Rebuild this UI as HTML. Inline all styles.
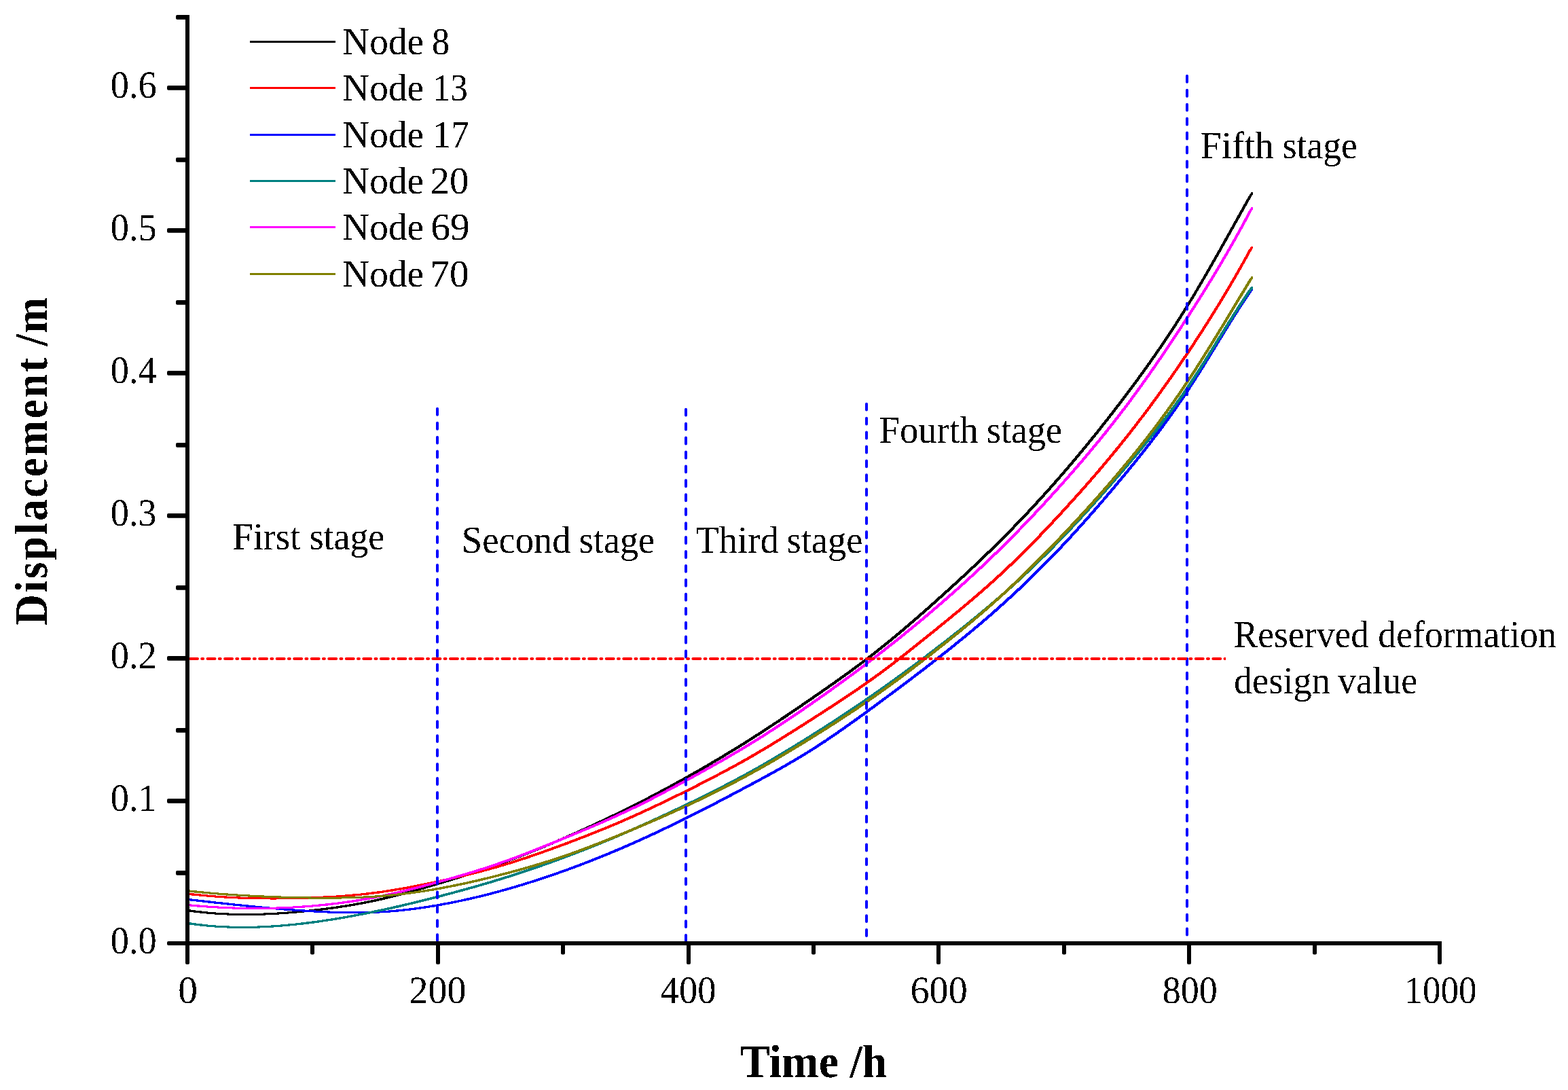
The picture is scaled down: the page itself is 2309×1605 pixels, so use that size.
<!DOCTYPE html>
<html lang="en"><head><meta charset="utf-8"><title>Displacement vs Time</title>
<style>html,body{margin:0;padding:0;background:#fff;}body{width:2309px;height:1605px;overflow:hidden;}svg{display:block;}text{font-family:"Liberation Serif","Times New Roman",serif;fill:#000;text-rendering:geometricPrecision;}.t{font-size:56.5px;}.k{font-size:57px;}.b{font-size:68.5px;font-weight:bold;}</style></head><body>
<svg xmlns="http://www.w3.org/2000/svg" width="2309" height="1605" viewBox="0 0 2309 1605">
<rect width="2309" height="1605" fill="#fff"/>
<defs><filter id="al" filterUnits="userSpaceOnUse" x="0" y="0" width="2309" height="1605"><feComponentTransfer><feFuncA type="discrete" tableValues="0 1"/></feComponentTransfer></filter><clipPath id="cl"><rect x="0" y="0" width="1805" height="1605"/></clipPath></defs>
<g stroke="none" shape-rendering="crispEdges">
<path d="M274.5 1339.1L276 1339.1L278.5 1339.2L282.5 1339.8L286.5 1340.3L290.5 1340.8L294.5 1341.3L298.5 1341.7L302.5 1342.1L306.5 1342.5L310.5 1342.9L314.5 1343.2L318.5 1343.5L322.5 1343.8L326.5 1344L330.5 1344.2L334.5 1344.4L338.5 1344.6L342.5 1344.7L346.5 1344.8L350.5 1344.9L354.5 1345L358.5 1345L362.5 1345L366.5 1345L370.5 1345L374.5 1344.9L378.5 1344.8L382.5 1344.7L386.5 1344.6L390.5 1344.4L394.5 1344.2L398.5 1344L402.5 1343.8L406.5 1343.6L410.5 1343.4L414.5 1343.1L418.5 1342.8L422.5 1342.5L426.5 1342.2L430.5 1341.9L434.5 1341.5L438.5 1341.1L442.5 1340.8L446.5 1340.4L450.5 1340L454.5 1339.5L458.5 1339.1L462.5 1338.6L466.5 1338.2L470.5 1337.7L474.5 1337.2L478.5 1336.7L482.5 1336.2L486.5 1335.6L490.5 1335.1L494.5 1334.5L498.5 1333.9L502.5 1333.3L506.5 1332.7L510.5 1332.1L514.5 1331.4L518.5 1330.7L522.5 1330L526.5 1329.3L530.5 1328.5L534.5 1327.8L538.5 1327L542.5 1326.2L546.5 1325.4L550.5 1324.5L554.5 1323.6L558.5 1322.7L562.5 1321.8L566.5 1320.9L570.5 1319.9L574.5 1319L578.5 1318L582.5 1316.9L586.5 1315.9L590.5 1314.9L594.5 1313.8L598.5 1312.7L602.5 1311.6L606.5 1310.5L610.5 1309.4L614.5 1308.3L618.5 1307.1L622.5 1306L626.5 1304.8L630.5 1303.7L634.5 1302.5L638.5 1301.3L642.5 1300.1L646.5 1298.9L650.5 1297.7L654.5 1296.5L658.5 1295.3L662.5 1294.1L666.5 1292.8L670.5 1291.6L674.5 1290.3L678.5 1289.1L682.5 1287.8L686.5 1286.6L690.5 1285.3L694.5 1284L698.5 1282.7L702.5 1281.4L706.5 1280L710.5 1278.7L714.5 1277.3L718.5 1276L722.5 1274.6L726.5 1273.2L730.5 1271.8L734.5 1270.4L738.5 1268.9L742.5 1267.5L746.5 1266L750.5 1264.5L754.5 1263L758.5 1261.5L762.5 1260L766.5 1258.4L770.5 1256.9L774.5 1255.3L778.5 1253.7L782.5 1252.1L786.5 1250.5L790.5 1248.9L794.5 1247.2L798.5 1245.6L802.5 1243.9L806.5 1242.3L810.5 1240.6L814.5 1238.9L818.5 1237.2L822.5 1235.5L826.5 1233.7L830.5 1232L834.5 1230.3L838.5 1228.5L842.5 1226.7L846.5 1225L850.5 1223.2L854.5 1221.4L858.5 1219.6L862.5 1217.8L866.5 1215.9L870.5 1214.1L874.5 1212.2L878.5 1210.4L882.5 1208.5L886.5 1206.6L890.5 1204.7L894.5 1202.8L898.5 1200.9L902.5 1199L906.5 1197.1L910.5 1195.1L914.5 1193.2L918.5 1191.2L922.5 1189.2L926.5 1187.2L930.5 1185.2L934.5 1183.2L938.5 1181.2L942.5 1179.1L946.5 1177.1L950.5 1175L954.5 1173L958.5 1170.9L962.5 1168.8L966.5 1166.7L970.5 1164.6L974.5 1162.4L978.5 1160.3L982.5 1158.1L986.5 1156L990.5 1153.8L994.5 1151.6L998.5 1149.4L1002.5 1147.2L1006.5 1145L1010.5 1142.7L1014.5 1140.5L1018.5 1138.2L1022.5 1135.9L1026.5 1133.7L1030.5 1131.4L1034.5 1129.1L1038.5 1126.7L1042.5 1124.4L1046.5 1122.1L1050.5 1119.7L1054.5 1117.3L1058.5 1115L1062.5 1112.6L1066.5 1110.1L1070.5 1107.7L1074.5 1105.3L1078.5 1102.8L1082.5 1100.4L1086.5 1097.9L1090.5 1095.4L1094.5 1092.9L1098.5 1090.4L1102.5 1087.9L1106.5 1085.3L1110.5 1082.8L1114.5 1080.2L1118.5 1077.6L1122.5 1075L1126.5 1072.4L1130.5 1069.8L1134.5 1067.2L1138.5 1064.5L1142.5 1061.9L1146.5 1059.2L1150.5 1056.5L1154.5 1053.8L1158.5 1051.1L1162.5 1048.4L1166.5 1045.7L1170.5 1043L1174.5 1040.3L1178.5 1037.6L1182.5 1034.8L1186.5 1032.1L1190.5 1029.3L1194.5 1026.6L1198.5 1023.8L1202.5 1021.1L1206.5 1018.3L1210.5 1015.5L1214.5 1012.7L1218.5 1009.9L1222.5 1007.1L1226.5 1004.3L1230.5 1001.5L1234.5 998.6L1238.5 995.8L1242.5 992.9L1246.5 990L1250.5 987.1L1254.5 984.2L1258.5 981.2L1262.5 978.3L1266.5 975.3L1270.5 972.3L1274.5 969.2L1278.5 966.2L1282.5 963.1L1286.5 960L1290.5 956.8L1294.5 953.7L1298.5 950.5L1302.5 947.2L1306.5 944L1310.5 940.7L1314.5 937.4L1318.5 934.1L1322.5 930.8L1326.5 927.4L1330.5 924L1334.5 920.6L1338.5 917.2L1342.5 913.8L1346.5 910.3L1350.5 906.8L1354.5 903.3L1358.5 899.8L1362.5 896.3L1366.5 892.8L1370.5 889.2L1374.5 885.7L1378.5 882.1L1382.5 878.5L1386.5 874.9L1390.5 871.3L1394.5 867.7L1398.5 864.1L1402.5 860.4L1406.5 856.8L1410.5 853.1L1414.5 849.4L1418.5 845.7L1422.5 842L1426.5 838.2L1430.5 834.5L1434.5 830.7L1438.5 826.9L1442.5 823.1L1446.5 819.3L1450.5 815.4L1454.5 811.5L1458.5 807.6L1462.5 803.7L1466.5 799.8L1470.5 795.8L1474.5 791.8L1478.5 787.8L1482.5 783.7L1486.5 779.7L1490.5 775.6L1494.5 771.4L1498.5 767.3L1502.5 763.1L1506.5 758.9L1510.5 754.7L1514.5 750.4L1518.5 746.1L1522.5 741.8L1526.5 737.4L1530.5 733.1L1534.5 728.7L1538.5 724.2L1542.5 719.8L1546.5 715.3L1550.5 710.8L1554.5 706.2L1558.5 701.7L1562.5 697.1L1566.5 692.4L1570.5 687.8L1574.5 683.1L1578.5 678.4L1582.5 673.6L1586.5 668.8L1590.5 664L1594.5 659.2L1598.5 654.3L1602.5 649.4L1606.5 644.5L1610.5 639.6L1614.5 634.6L1618.5 629.6L1622.5 624.5L1626.5 619.4L1630.5 614.3L1634.5 609.2L1638.5 604L1642.5 598.8L1646.5 593.6L1650.5 588.4L1654.5 583.1L1658.5 577.8L1662.5 572.4L1666.5 567.1L1670.5 561.6L1674.5 556.2L1678.5 550.7L1682.5 545.2L1686.5 539.6L1690.5 534L1694.5 528.4L1698.5 522.6L1702.5 516.9L1706.5 511.1L1710.5 505.2L1714.5 499.3L1718.5 493.3L1722.5 487.3L1726.5 481.2L1730.5 475L1734.5 468.8L1738.5 462.5L1742.5 456.1L1746.5 449.7L1750.5 443.2L1754.5 436.6L1758.5 429.9L1762.5 423.2L1766.5 416.4L1770.5 409.6L1774.5 402.7L1778.5 395.7L1782.5 388.7L1786.5 381.7L1790.5 374.7L1794.5 367.6L1798.5 360.5L1802.5 353.3L1806.5 346.2L1810.5 339L1814.5 331.9L1818.5 324.7L1822.5 317.5L1826.5 310.4L1830.5 303.2L1834.5 296.1L1838.5 289L1842.5 283.3L1843.2 283.3L1844.8 283.3L1844.8 286.3L1843.2 288.9L1842.5 290.2L1838.5 297.3L1834.5 304.5L1830.5 311.6L1826.5 318.8L1822.5 325.9L1818.5 333.1L1814.5 340.2L1810.5 347.4L1806.5 354.6L1802.5 361.7L1798.5 368.8L1794.5 375.9L1790.5 383L1786.5 390L1782.5 397L1778.5 403.9L1774.5 410.8L1770.5 417.7L1766.5 424.5L1762.5 431.2L1758.5 437.9L1754.5 444.5L1750.5 451.1L1746.5 457.5L1742.5 463.9L1738.5 470.2L1734.5 476.5L1730.5 482.6L1726.5 488.8L1722.5 494.8L1718.5 500.8L1714.5 506.7L1710.5 512.6L1706.5 518.4L1702.5 524.2L1698.5 529.9L1694.5 535.6L1690.5 541.2L1686.5 546.8L1682.5 552.3L1678.5 557.8L1674.5 563.3L1670.5 568.7L1666.5 574.1L1662.5 579.4L1658.5 584.8L1654.5 590L1650.5 595.3L1646.5 600.5L1642.5 605.7L1638.5 610.9L1634.5 616.1L1630.5 621.2L1626.5 626.2L1622.5 631.3L1618.5 636.3L1614.5 641.3L1610.5 646.3L1606.5 651.2L1602.5 656.1L1598.5 661L1594.5 665.8L1590.5 670.6L1586.5 675.4L1582.5 680.2L1578.5 684.9L1574.5 689.6L1570.5 694.3L1566.5 698.9L1562.5 703.5L1558.5 708.1L1554.5 712.7L1550.5 717.2L1546.5 721.7L1542.5 726.1L1538.5 730.6L1534.5 735L1530.5 739.4L1526.5 743.7L1522.5 748L1518.5 752.3L1514.5 756.6L1510.5 760.8L1506.5 765L1502.5 769.2L1498.5 773.4L1494.5 777.5L1490.5 781.6L1486.5 785.7L1482.5 789.8L1478.5 793.8L1474.5 797.8L1470.5 801.8L1466.5 805.7L1462.5 809.7L1458.5 813.6L1454.5 817.4L1450.5 821.3L1446.5 825.1L1442.5 829L1438.5 832.8L1434.5 836.5L1430.5 840.3L1426.5 844L1422.5 847.8L1418.5 851.5L1414.5 855.2L1410.5 858.8L1406.5 862.5L1402.5 866.1L1398.5 869.8L1394.5 873.4L1390.5 877L1386.5 880.6L1382.5 884.2L1378.5 887.8L1374.5 891.3L1370.5 894.9L1366.5 898.4L1362.5 902L1358.5 905.5L1354.5 909L1350.5 912.4L1346.5 915.9L1342.5 919.3L1338.5 922.8L1334.5 926.2L1330.5 929.6L1326.5 932.9L1322.5 936.3L1318.5 939.6L1314.5 942.9L1310.5 946.2L1306.5 949.4L1302.5 952.7L1298.5 955.9L1294.5 959L1290.5 962.2L1286.5 965.3L1282.5 968.4L1278.5 971.5L1274.5 974.5L1270.5 977.5L1266.5 980.5L1262.5 983.5L1258.5 986.4L1254.5 989.4L1250.5 992.3L1246.5 995.2L1242.5 998L1238.5 1000.9L1234.5 1003.8L1230.5 1006.6L1226.5 1009.4L1222.5 1012.2L1218.5 1015L1214.5 1017.8L1210.5 1020.6L1206.5 1023.4L1202.5 1026.1L1198.5 1028.9L1194.5 1031.6L1190.5 1034.4L1186.5 1037.1L1182.5 1039.9L1178.5 1042.6L1174.5 1045.3L1170.5 1048.1L1166.5 1050.8L1162.5 1053.5L1158.5 1056.2L1154.5 1058.9L1150.5 1061.5L1146.5 1064.2L1142.5 1066.8L1138.5 1069.5L1134.5 1072.1L1130.5 1074.8L1126.5 1077.4L1122.5 1080L1118.5 1082.6L1114.5 1085.1L1110.5 1087.7L1106.5 1090.2L1102.5 1092.8L1098.5 1095.3L1094.5 1097.8L1090.5 1100.3L1086.5 1102.8L1082.5 1105.2L1078.5 1107.7L1074.5 1110.1L1070.5 1112.5L1066.5 1115L1062.5 1117.4L1058.5 1119.7L1054.5 1122.1L1050.5 1124.5L1046.5 1126.8L1042.5 1129.2L1038.5 1131.5L1034.5 1133.8L1030.5 1136.1L1026.5 1138.4L1022.5 1140.6L1018.5 1142.9L1014.5 1145.2L1010.5 1147.4L1006.5 1149.6L1002.5 1151.8L998.5 1154L994.5 1156.2L990.5 1158.4L986.5 1160.6L982.5 1162.7L978.5 1164.9L974.5 1167L970.5 1169.1L966.5 1171.3L962.5 1173.3L958.5 1175.4L954.5 1177.5L950.5 1179.6L946.5 1181.6L942.5 1183.7L938.5 1185.7L934.5 1187.7L930.5 1189.7L926.5 1191.7L922.5 1193.7L918.5 1195.7L914.5 1197.6L910.5 1199.6L906.5 1201.5L902.5 1203.4L898.5 1205.4L894.5 1207.3L890.5 1209.2L886.5 1211L882.5 1212.9L878.5 1214.8L874.5 1216.6L870.5 1218.5L866.5 1220.3L862.5 1222.1L858.5 1223.9L854.5 1225.7L850.5 1227.5L846.5 1229.3L842.5 1231.1L838.5 1232.8L834.5 1234.6L830.5 1236.3L826.5 1238L822.5 1239.7L818.5 1241.5L814.5 1243.1L810.5 1244.8L806.5 1246.5L802.5 1248.2L798.5 1249.8L794.5 1251.5L790.5 1253.1L786.5 1254.7L782.5 1256.3L778.5 1257.9L774.5 1259.5L770.5 1261L766.5 1262.6L762.5 1264.1L758.5 1265.6L754.5 1267.1L750.5 1268.6L746.5 1270.1L742.5 1271.6L738.5 1273L734.5 1274.4L730.5 1275.8L726.5 1277.2L722.5 1278.6L718.5 1280L714.5 1281.4L710.5 1282.7L706.5 1284L702.5 1285.3L698.5 1286.7L694.5 1288L690.5 1289.2L686.5 1290.5L682.5 1291.8L678.5 1293L674.5 1294.3L670.5 1295.5L666.5 1296.8L662.5 1298L658.5 1299.2L654.5 1300.4L650.5 1301.6L646.5 1302.8L642.5 1304L638.5 1305.2L634.5 1306.4L630.5 1307.5L626.5 1308.7L622.5 1309.8L618.5 1311L614.5 1312.1L610.5 1313.2L606.5 1314.4L602.5 1315.4L598.5 1316.5L594.5 1317.6L590.5 1318.6L586.5 1319.7L582.5 1320.7L578.5 1321.7L574.5 1322.7L570.5 1323.7L566.5 1324.6L562.5 1325.5L558.5 1326.4L554.5 1327.3L550.5 1328.2L546.5 1329L542.5 1329.8L538.5 1330.6L534.5 1331.4L530.5 1332.1L526.5 1332.8L522.5 1333.5L518.5 1334.2L514.5 1334.9L510.5 1335.5L506.5 1336.2L502.5 1336.8L498.5 1337.4L494.5 1337.9L490.5 1338.5L486.5 1339L482.5 1339.6L478.5 1340.1L474.5 1340.6L470.5 1341.1L466.5 1341.5L462.5 1342L458.5 1342.4L454.5 1342.9L450.5 1343.3L446.5 1343.7L442.5 1344.1L438.5 1344.4L434.5 1344.8L430.5 1345.1L426.5 1345.4L422.5 1345.7L418.5 1346L414.5 1346.3L410.5 1346.5L406.5 1346.8L402.5 1347L398.5 1347.2L394.5 1347.4L390.5 1347.5L386.5 1347.7L382.5 1347.8L378.5 1347.9L374.5 1347.9L370.5 1348L366.5 1348L362.5 1348L358.5 1348L354.5 1348L350.5 1348L346.5 1347.9L342.5 1347.8L338.5 1347.7L334.5 1347.5L330.5 1347.4L326.5 1347.2L322.5 1346.9L318.5 1346.7L314.5 1346.4L310.5 1346.1L306.5 1345.8L302.5 1345.4L298.5 1345L294.5 1344.6L290.5 1344.2L286.5 1343.7L282.5 1343.2L278.5 1342.7L276 1342.3L274.5 1342.1Z" fill="#000000"/>
<path d="M274.5 1314.6L276 1314.6L278.5 1314.7L282.5 1315.2L286.5 1315.6L290.5 1316L294.5 1316.4L298.5 1316.8L302.5 1317.2L306.5 1317.5L310.5 1317.8L314.5 1318.2L318.5 1318.5L322.5 1318.7L326.5 1319L330.5 1319.3L334.5 1319.5L338.5 1319.7L342.5 1320L346.5 1320.1L350.5 1320.3L354.5 1320.5L358.5 1320.6L362.5 1320.8L366.5 1320.9L370.5 1321L374.5 1321.1L378.5 1321.2L382.5 1321.3L386.5 1321.3L390.5 1321.4L394.5 1321.4L398.5 1321.4L402.5 1321.5L406.5 1321.4L410.5 1321.4L414.5 1321.4L418.5 1321.3L422.5 1321.3L426.5 1321.2L430.5 1321.1L434.5 1321.1L438.5 1321L442.5 1320.8L446.5 1320.7L450.5 1320.6L454.5 1320.4L458.5 1320.3L462.5 1320.1L466.5 1320L470.5 1319.8L474.5 1319.6L478.5 1319.4L482.5 1319.2L486.5 1319L490.5 1318.7L494.5 1318.5L498.5 1318.2L502.5 1317.9L506.5 1317.6L510.5 1317.3L514.5 1317L518.5 1316.6L522.5 1316.2L526.5 1315.9L530.5 1315.5L534.5 1315L538.5 1314.6L542.5 1314.1L546.5 1313.6L550.5 1313.1L554.5 1312.6L558.5 1312.1L562.5 1311.5L566.5 1310.9L570.5 1310.3L574.5 1309.6L578.5 1309L582.5 1308.3L586.5 1307.6L590.5 1306.9L594.5 1306.2L598.5 1305.5L602.5 1304.7L606.5 1304L610.5 1303.2L614.5 1302.4L618.5 1301.6L622.5 1300.8L626.5 1300L630.5 1299.2L634.5 1298.3L638.5 1297.5L642.5 1296.6L646.5 1295.8L650.5 1294.9L654.5 1294L658.5 1293.1L662.5 1292.2L666.5 1291.3L670.5 1290.4L674.5 1289.4L678.5 1288.5L682.5 1287.5L686.5 1286.6L690.5 1285.6L694.5 1284.6L698.5 1283.6L702.5 1282.6L706.5 1281.5L710.5 1280.5L714.5 1279.4L718.5 1278.3L722.5 1277.2L726.5 1276.1L730.5 1275L734.5 1273.8L738.5 1272.6L742.5 1271.4L746.5 1270.2L750.5 1269L754.5 1267.7L758.5 1266.4L762.5 1265.1L766.5 1263.8L770.5 1262.5L774.5 1261.2L778.5 1259.8L782.5 1258.5L786.5 1257.1L790.5 1255.7L794.5 1254.3L798.5 1252.9L802.5 1251.5L806.5 1250L810.5 1248.6L814.5 1247.1L818.5 1245.7L822.5 1244.2L826.5 1242.7L830.5 1241.2L834.5 1239.7L838.5 1238.2L842.5 1236.7L846.5 1235.2L850.5 1233.7L854.5 1232.1L858.5 1230.6L862.5 1229L866.5 1227.5L870.5 1225.9L874.5 1224.3L878.5 1222.7L882.5 1221.1L886.5 1219.4L890.5 1217.8L894.5 1216.1L898.5 1214.5L902.5 1212.8L906.5 1211.1L910.5 1209.4L914.5 1207.7L918.5 1205.9L922.5 1204.2L926.5 1202.4L930.5 1200.6L934.5 1198.8L938.5 1197L942.5 1195.2L946.5 1193.4L950.5 1191.5L954.5 1189.6L958.5 1187.8L962.5 1185.9L966.5 1184L970.5 1182.1L974.5 1180.2L978.5 1178.2L982.5 1176.3L986.5 1174.3L990.5 1172.4L994.5 1170.4L998.5 1168.5L1002.5 1166.5L1006.5 1164.5L1010.5 1162.5L1014.5 1160.5L1018.5 1158.5L1022.5 1156.5L1026.5 1154.5L1030.5 1152.4L1034.5 1150.4L1038.5 1148.4L1042.5 1146.3L1046.5 1144.2L1050.5 1142.2L1054.5 1140.1L1058.5 1138L1062.5 1135.9L1066.5 1133.7L1070.5 1131.6L1074.5 1129.4L1078.5 1127.2L1082.5 1125.1L1086.5 1122.9L1090.5 1120.6L1094.5 1118.4L1098.5 1116.1L1102.5 1113.8L1106.5 1111.5L1110.5 1109.2L1114.5 1106.9L1118.5 1104.5L1122.5 1102.2L1126.5 1099.8L1130.5 1097.4L1134.5 1094.9L1138.5 1092.5L1142.5 1090L1146.5 1087.6L1150.5 1085.1L1154.5 1082.6L1158.5 1080.1L1162.5 1077.6L1166.5 1075.1L1170.5 1072.6L1174.5 1070L1178.5 1067.5L1182.5 1064.9L1186.5 1062.4L1190.5 1059.8L1194.5 1057.3L1198.5 1054.7L1202.5 1052.2L1206.5 1049.6L1210.5 1047L1214.5 1044.4L1218.5 1041.8L1222.5 1039.2L1226.5 1036.6L1230.5 1034L1234.5 1031.4L1238.5 1028.7L1242.5 1026.1L1246.5 1023.4L1250.5 1020.7L1254.5 1018L1258.5 1015.3L1262.5 1012.6L1266.5 1009.8L1270.5 1007L1274.5 1004.2L1278.5 1001.4L1282.5 998.5L1286.5 995.6L1290.5 992.7L1294.5 989.8L1298.5 986.9L1302.5 983.9L1306.5 980.9L1310.5 977.8L1314.5 974.8L1318.5 971.7L1322.5 968.6L1326.5 965.5L1330.5 962.4L1334.5 959.3L1338.5 956.1L1342.5 952.9L1346.5 949.7L1350.5 946.5L1354.5 943.3L1358.5 940.1L1362.5 936.9L1366.5 933.7L1370.5 930.4L1374.5 927.2L1378.5 923.9L1382.5 920.7L1386.5 917.4L1390.5 914.2L1394.5 910.9L1398.5 907.6L1402.5 904.3L1406.5 901L1410.5 897.7L1414.5 894.4L1418.5 891L1422.5 887.7L1426.5 884.3L1430.5 880.9L1434.5 877.5L1438.5 874.1L1442.5 870.6L1446.5 867.1L1450.5 863.6L1454.5 860.1L1458.5 856.5L1462.5 852.9L1466.5 849.2L1470.5 845.6L1474.5 841.9L1478.5 838.1L1482.5 834.4L1486.5 830.5L1490.5 826.7L1494.5 822.8L1498.5 818.9L1502.5 815L1506.5 811L1510.5 807L1514.5 802.9L1518.5 798.9L1522.5 794.8L1526.5 790.7L1530.5 786.5L1534.5 782.3L1538.5 778.2L1542.5 773.9L1546.5 769.7L1550.5 765.4L1554.5 761.1L1558.5 756.8L1562.5 752.5L1566.5 748.1L1570.5 743.7L1574.5 739.3L1578.5 734.9L1582.5 730.5L1586.5 726L1590.5 721.5L1594.5 717L1598.5 712.5L1602.5 707.9L1606.5 703.3L1610.5 698.7L1614.5 694L1618.5 689.3L1622.5 684.6L1626.5 679.9L1630.5 675.1L1634.5 670.3L1638.5 665.4L1642.5 660.5L1646.5 655.6L1650.5 650.7L1654.5 645.7L1658.5 640.6L1662.5 635.6L1666.5 630.4L1670.5 625.3L1674.5 620.1L1678.5 614.9L1682.5 609.6L1686.5 604.3L1690.5 598.9L1694.5 593.5L1698.5 588.1L1702.5 582.6L1706.5 577.1L1710.5 571.5L1714.5 565.9L1718.5 560.3L1722.5 554.6L1726.5 548.9L1730.5 543.1L1734.5 537.3L1738.5 531.4L1742.5 525.5L1746.5 519.6L1750.5 513.6L1754.5 507.6L1758.5 501.5L1762.5 495.4L1766.5 489.2L1770.5 483L1774.5 476.8L1778.5 470.4L1782.5 464.1L1786.5 457.7L1790.5 451.2L1794.5 444.6L1798.5 438L1802.5 431.4L1806.5 424.7L1810.5 417.9L1814.5 411.1L1818.5 404.1L1822.5 397.2L1826.5 390.1L1830.5 383L1834.5 375.8L1838.5 368.5L1842.5 362.6L1843.2 362.6L1844.8 362.6L1844.8 365.6L1843.2 368.3L1842.5 369.7L1838.5 377L1834.5 384.2L1830.5 391.3L1826.5 398.4L1822.5 405.4L1818.5 412.3L1814.5 419.2L1810.5 426L1806.5 432.7L1802.5 439.4L1798.5 446L1794.5 452.5L1790.5 459L1786.5 465.5L1782.5 471.9L1778.5 478.2L1774.5 484.5L1770.5 490.7L1766.5 496.9L1762.5 503L1758.5 509.1L1754.5 515.1L1750.5 521.1L1746.5 527L1742.5 532.9L1738.5 538.8L1734.5 544.6L1730.5 550.4L1726.5 556.2L1722.5 561.9L1718.5 567.5L1714.5 573.1L1710.5 578.7L1706.5 584.2L1702.5 589.7L1698.5 595.2L1694.5 600.6L1690.5 605.9L1686.5 611.3L1682.5 616.5L1678.5 621.8L1674.5 627L1670.5 632.2L1666.5 637.3L1662.5 642.4L1658.5 647.4L1654.5 652.4L1650.5 657.4L1646.5 662.3L1642.5 667.2L1638.5 672.1L1634.5 676.9L1630.5 681.7L1626.5 686.4L1622.5 691.2L1618.5 695.9L1614.5 700.5L1610.5 705.1L1606.5 709.8L1602.5 714.3L1598.5 718.9L1594.5 723.4L1590.5 727.9L1586.5 732.4L1582.5 736.8L1578.5 741.2L1574.5 745.6L1570.5 750L1566.5 754.4L1562.5 758.7L1558.5 763L1554.5 767.3L1550.5 771.6L1546.5 775.9L1542.5 780.1L1538.5 784.3L1534.5 788.5L1530.5 792.6L1526.5 796.8L1522.5 800.9L1518.5 804.9L1514.5 809L1510.5 813L1506.5 817L1502.5 820.9L1498.5 824.8L1494.5 828.7L1490.5 832.6L1486.5 836.4L1482.5 840.2L1478.5 843.9L1474.5 847.7L1470.5 851.3L1466.5 855L1462.5 858.6L1458.5 862.2L1454.5 865.7L1450.5 869.2L1446.5 872.7L1442.5 876.2L1438.5 879.6L1434.5 883.1L1430.5 886.5L1426.5 889.8L1422.5 893.2L1418.5 896.5L1414.5 899.9L1410.5 903.2L1406.5 906.5L1402.5 909.8L1398.5 913.1L1394.5 916.3L1390.5 919.6L1386.5 922.9L1382.5 926.1L1378.5 929.4L1374.5 932.6L1370.5 935.9L1366.5 939.1L1362.5 942.3L1358.5 945.5L1354.5 948.7L1350.5 951.9L1346.5 955.1L1342.5 958.3L1338.5 961.5L1334.5 964.6L1330.5 967.7L1326.5 970.9L1322.5 973.9L1318.5 977L1314.5 980.1L1310.5 983.1L1306.5 986.1L1302.5 989.1L1298.5 992.1L1294.5 995L1290.5 997.9L1286.5 1000.8L1282.5 1003.7L1278.5 1006.5L1274.5 1009.3L1270.5 1012.1L1266.5 1014.9L1262.5 1017.6L1258.5 1020.3L1254.5 1023.1L1250.5 1025.7L1246.5 1028.4L1242.5 1031.1L1238.5 1033.7L1234.5 1036.4L1230.5 1039L1226.5 1041.6L1222.5 1044.2L1218.5 1046.8L1214.5 1049.4L1210.5 1051.9L1206.5 1054.5L1202.5 1057.1L1198.5 1059.6L1194.5 1062.2L1190.5 1064.8L1186.5 1067.3L1182.5 1069.9L1178.5 1072.4L1174.5 1074.9L1170.5 1077.5L1166.5 1080L1162.5 1082.5L1158.5 1085L1154.5 1087.5L1150.5 1090L1146.5 1092.4L1142.5 1094.9L1138.5 1097.3L1134.5 1099.8L1130.5 1102.2L1126.5 1104.6L1122.5 1106.9L1118.5 1109.3L1114.5 1111.6L1110.5 1114L1106.5 1116.3L1102.5 1118.6L1098.5 1120.8L1094.5 1123.1L1090.5 1125.3L1086.5 1127.5L1082.5 1129.7L1078.5 1131.9L1074.5 1134L1070.5 1136.2L1066.5 1138.3L1062.5 1140.4L1058.5 1142.5L1054.5 1144.6L1050.5 1146.7L1046.5 1148.8L1042.5 1150.8L1038.5 1152.9L1034.5 1154.9L1030.5 1157L1026.5 1159L1022.5 1161L1018.5 1163L1014.5 1165L1010.5 1167L1006.5 1169L1002.5 1171L998.5 1172.9L994.5 1174.9L990.5 1176.9L986.5 1178.8L982.5 1180.7L978.5 1182.7L974.5 1184.6L970.5 1186.5L966.5 1188.4L962.5 1190.3L958.5 1192.2L954.5 1194L950.5 1195.9L946.5 1197.7L942.5 1199.6L938.5 1201.4L934.5 1203.2L930.5 1205L926.5 1206.7L922.5 1208.5L918.5 1210.2L914.5 1212L910.5 1213.7L906.5 1215.4L902.5 1217.1L898.5 1218.7L894.5 1220.4L890.5 1222L886.5 1223.7L882.5 1225.3L878.5 1226.9L874.5 1228.5L870.5 1230.1L866.5 1231.6L862.5 1233.2L858.5 1234.7L854.5 1236.3L850.5 1237.8L846.5 1239.3L842.5 1240.9L838.5 1242.4L834.5 1243.9L830.5 1245.3L826.5 1246.8L822.5 1248.3L818.5 1249.8L814.5 1251.2L810.5 1252.7L806.5 1254.1L802.5 1255.5L798.5 1257L794.5 1258.4L790.5 1259.8L786.5 1261.1L782.5 1262.5L778.5 1263.9L774.5 1265.2L770.5 1266.5L766.5 1267.8L762.5 1269.1L758.5 1270.4L754.5 1271.6L750.5 1272.9L746.5 1274.1L742.5 1275.3L738.5 1276.5L734.5 1277.7L730.5 1278.8L726.5 1279.9L722.5 1281L718.5 1282.1L714.5 1283.2L710.5 1284.3L706.5 1285.3L702.5 1286.3L698.5 1287.4L694.5 1288.4L690.5 1289.3L686.5 1290.3L682.5 1291.3L678.5 1292.2L674.5 1293.1L670.5 1294.1L666.5 1295L662.5 1295.9L658.5 1296.8L654.5 1297.7L650.5 1298.5L646.5 1299.4L642.5 1300.3L638.5 1301.1L634.5 1302L630.5 1302.8L626.5 1303.6L622.5 1304.4L618.5 1305.2L614.5 1306L610.5 1306.8L606.5 1307.6L602.5 1308.3L598.5 1309L594.5 1309.8L590.5 1310.5L586.5 1311.2L582.5 1311.8L578.5 1312.5L574.5 1313.1L570.5 1313.7L566.5 1314.3L562.5 1314.9L558.5 1315.5L554.5 1316L550.5 1316.5L546.5 1317L542.5 1317.5L538.5 1317.9L534.5 1318.3L530.5 1318.8L526.5 1319.1L522.5 1319.5L518.5 1319.9L514.5 1320.2L510.5 1320.5L506.5 1320.8L502.5 1321.1L498.5 1321.4L494.5 1321.7L490.5 1321.9L486.5 1322.1L482.5 1322.3L478.5 1322.6L474.5 1322.7L470.5 1322.9L466.5 1323.1L462.5 1323.3L458.5 1323.4L454.5 1323.6L450.5 1323.7L446.5 1323.8L442.5 1323.9L438.5 1324L434.5 1324.1L430.5 1324.2L426.5 1324.3L422.5 1324.3L418.5 1324.4L414.5 1324.4L410.5 1324.4L406.5 1324.5L402.5 1324.5L398.5 1324.5L394.5 1324.4L390.5 1324.4L386.5 1324.4L382.5 1324.3L378.5 1324.3L374.5 1324.2L370.5 1324.1L366.5 1324L362.5 1323.9L358.5 1323.8L354.5 1323.6L350.5 1323.5L346.5 1323.3L342.5 1323.1L338.5 1322.9L334.5 1322.7L330.5 1322.5L326.5 1322.2L322.5 1322L318.5 1321.7L314.5 1321.4L310.5 1321.1L306.5 1320.8L302.5 1320.4L298.5 1320.1L294.5 1319.7L290.5 1319.3L286.5 1318.9L282.5 1318.5L278.5 1318.1L276 1317.8L274.5 1317.6Z" fill="#ff0000"/>
<path d="M274.5 1322.9L276 1322.9L278.5 1323L282.5 1323.5L286.5 1323.9L290.5 1324.4L294.5 1324.8L298.5 1325.3L302.5 1325.7L306.5 1326.2L310.5 1326.6L314.5 1327.1L318.5 1327.5L322.5 1328L326.5 1328.4L330.5 1328.8L334.5 1329.3L338.5 1329.7L342.5 1330.1L346.5 1330.6L350.5 1331L354.5 1331.4L358.5 1331.8L362.5 1332.2L366.5 1332.6L370.5 1333L374.5 1333.4L378.5 1333.8L382.5 1334.2L386.5 1334.5L390.5 1334.9L394.5 1335.3L398.5 1335.6L402.5 1336L406.5 1336.3L410.5 1336.7L414.5 1337L418.5 1337.3L422.5 1337.6L426.5 1337.9L430.5 1338.2L434.5 1338.5L438.5 1338.8L442.5 1339.1L446.5 1339.4L450.5 1339.6L454.5 1339.9L458.5 1340.1L462.5 1340.4L466.5 1340.6L470.5 1340.8L474.5 1341L478.5 1341.2L482.5 1341.4L486.5 1341.5L490.5 1341.7L494.5 1341.8L498.5 1342L502.5 1342.1L506.5 1342.2L510.5 1342.2L514.5 1342.3L518.5 1342.3L522.5 1342.4L526.5 1342.3L530.5 1342.3L534.5 1342.2L538.5 1342.1L542.5 1342L546.5 1341.9L550.5 1341.7L554.5 1341.6L558.5 1341.3L562.5 1341.1L566.5 1340.9L570.5 1340.6L574.5 1340.3L578.5 1339.9L582.5 1339.6L586.5 1339.2L590.5 1338.8L594.5 1338.3L598.5 1337.9L602.5 1337.4L606.5 1336.9L610.5 1336.4L614.5 1335.8L618.5 1335.3L622.5 1334.7L626.5 1334.1L630.5 1333.5L634.5 1332.8L638.5 1332.2L642.5 1331.5L646.5 1330.8L650.5 1330L654.5 1329.3L658.5 1328.5L662.5 1327.8L666.5 1327L670.5 1326.2L674.5 1325.3L678.5 1324.5L682.5 1323.6L686.5 1322.7L690.5 1321.8L694.5 1320.9L698.5 1320L702.5 1319L706.5 1318L710.5 1317L714.5 1316L718.5 1315L722.5 1314L726.5 1312.9L730.5 1311.9L734.5 1310.8L738.5 1309.7L742.5 1308.6L746.5 1307.4L750.5 1306.3L754.5 1305.1L758.5 1304L762.5 1302.8L766.5 1301.6L770.5 1300.3L774.5 1299.1L778.5 1297.9L782.5 1296.6L786.5 1295.3L790.5 1294L794.5 1292.7L798.5 1291.4L802.5 1290.1L806.5 1288.7L810.5 1287.3L814.5 1286L818.5 1284.6L822.5 1283.2L826.5 1281.8L830.5 1280.3L834.5 1278.9L838.5 1277.4L842.5 1275.9L846.5 1274.5L850.5 1273L854.5 1271.4L858.5 1269.9L862.5 1268.4L866.5 1266.8L870.5 1265.2L874.5 1263.7L878.5 1262.1L882.5 1260.5L886.5 1258.8L890.5 1257.2L894.5 1255.6L898.5 1253.9L902.5 1252.2L906.5 1250.5L910.5 1248.8L914.5 1247.1L918.5 1245.4L922.5 1243.6L926.5 1241.9L930.5 1240.1L934.5 1238.3L938.5 1236.6L942.5 1234.8L946.5 1232.9L950.5 1231.1L954.5 1229.3L958.5 1227.4L962.5 1225.6L966.5 1223.7L970.5 1221.8L974.5 1219.9L978.5 1218L982.5 1216.1L986.5 1214.2L990.5 1212.2L994.5 1210.3L998.5 1208.3L1002.5 1206.4L1006.5 1204.4L1010.5 1202.4L1014.5 1200.4L1018.5 1198.4L1022.5 1196.4L1026.5 1194.4L1030.5 1192.3L1034.5 1190.3L1038.5 1188.3L1042.5 1186.2L1046.5 1184.1L1050.5 1182.1L1054.5 1180L1058.5 1177.9L1062.5 1175.8L1066.5 1173.8L1070.5 1171.7L1074.5 1169.5L1078.5 1167.4L1082.5 1165.3L1086.5 1163.2L1090.5 1161.1L1094.5 1158.9L1098.5 1156.8L1102.5 1154.7L1106.5 1152.5L1110.5 1150.4L1114.5 1148.2L1118.5 1146.1L1122.5 1143.9L1126.5 1141.7L1130.5 1139.5L1134.5 1137.3L1138.5 1135.1L1142.5 1132.9L1146.5 1130.7L1150.5 1128.4L1154.5 1126.1L1158.5 1123.8L1162.5 1121.5L1166.5 1119.2L1170.5 1116.8L1174.5 1114.5L1178.5 1112L1182.5 1109.6L1186.5 1107.2L1190.5 1104.7L1194.5 1102.2L1198.5 1099.6L1202.5 1097.1L1206.5 1094.5L1210.5 1091.8L1214.5 1089.2L1218.5 1086.5L1222.5 1083.8L1226.5 1081L1230.5 1078.3L1234.5 1075.5L1238.5 1072.7L1242.5 1069.9L1246.5 1067.1L1250.5 1064.2L1254.5 1061.4L1258.5 1058.5L1262.5 1055.6L1266.5 1052.7L1270.5 1049.8L1274.5 1046.9L1278.5 1044L1282.5 1041L1286.5 1038.1L1290.5 1035.1L1294.5 1032.2L1298.5 1029.2L1302.5 1026.3L1306.5 1023.3L1310.5 1020.3L1314.5 1017.3L1318.5 1014.4L1322.5 1011.4L1326.5 1008.4L1330.5 1005.4L1334.5 1002.3L1338.5 999.3L1342.5 996.3L1346.5 993.2L1350.5 990.2L1354.5 987.1L1358.5 984.1L1362.5 981L1366.5 977.9L1370.5 974.8L1374.5 971.7L1378.5 968.6L1382.5 965.4L1386.5 962.3L1390.5 959.1L1394.5 956L1398.5 952.8L1402.5 949.6L1406.5 946.3L1410.5 943.1L1414.5 939.9L1418.5 936.6L1422.5 933.3L1426.5 930L1430.5 926.7L1434.5 923.3L1438.5 920L1442.5 916.6L1446.5 913.2L1450.5 909.7L1454.5 906.3L1458.5 902.8L1462.5 899.3L1466.5 895.7L1470.5 892.2L1474.5 888.6L1478.5 885L1482.5 881.3L1486.5 877.7L1490.5 874L1494.5 870.3L1498.5 866.5L1502.5 862.7L1506.5 858.9L1510.5 855.1L1514.5 851.2L1518.5 847.3L1522.5 843.4L1526.5 839.4L1530.5 835.4L1534.5 831.4L1538.5 827.4L1542.5 823.3L1546.5 819.2L1550.5 815.1L1554.5 810.9L1558.5 806.7L1562.5 802.5L1566.5 798.2L1570.5 794L1574.5 789.6L1578.5 785.3L1582.5 780.9L1586.5 776.5L1590.5 772.1L1594.5 767.6L1598.5 763.2L1602.5 758.6L1606.5 754.1L1610.5 749.5L1614.5 744.9L1618.5 740.3L1622.5 735.7L1626.5 731L1630.5 726.3L1634.5 721.6L1638.5 716.8L1642.5 712.1L1646.5 707.3L1650.5 702.5L1654.5 697.6L1658.5 692.8L1662.5 687.9L1666.5 683L1670.5 678.1L1674.5 673.1L1678.5 668.1L1682.5 663.1L1686.5 658L1690.5 652.9L1694.5 647.7L1698.5 642.5L1702.5 637.2L1706.5 631.9L1710.5 626.5L1714.5 621.1L1718.5 615.6L1722.5 610L1726.5 604.4L1730.5 598.7L1734.5 592.9L1738.5 587.1L1742.5 581.2L1746.5 575.2L1750.5 569.1L1754.5 562.9L1758.5 556.6L1762.5 550.3L1766.5 544L1770.5 537.5L1774.5 531.1L1778.5 524.6L1782.5 518L1786.5 511.5L1790.5 505L1794.5 498.4L1798.5 491.9L1802.5 485.4L1806.5 478.9L1810.5 472.5L1814.5 466.1L1818.5 459.7L1822.5 453.5L1826.5 447.3L1830.5 441.1L1834.5 435.1L1838.5 429.2L1842.5 424.4L1843.2 424.4L1844.8 424.4L1844.8 427.4L1843.2 429.6L1842.5 430.7L1838.5 436.6L1834.5 442.6L1830.5 448.7L1826.5 454.9L1822.5 461.2L1818.5 467.5L1814.5 473.9L1810.5 480.3L1806.5 486.8L1802.5 493.3L1798.5 499.8L1794.5 506.3L1790.5 512.9L1786.5 519.4L1782.5 525.9L1778.5 532.4L1774.5 538.9L1770.5 545.4L1766.5 551.7L1762.5 558.1L1758.5 564.3L1754.5 570.5L1750.5 576.6L1746.5 582.7L1742.5 588.6L1738.5 594.5L1734.5 600.3L1730.5 606L1726.5 611.6L1722.5 617.2L1718.5 622.7L1714.5 628.2L1710.5 633.6L1706.5 638.9L1702.5 644.2L1698.5 649.4L1694.5 654.6L1690.5 659.7L1686.5 664.8L1682.5 669.8L1678.5 674.8L1674.5 679.8L1670.5 684.8L1666.5 689.7L1662.5 694.6L1658.5 699.4L1654.5 704.3L1650.5 709.1L1646.5 713.9L1642.5 718.7L1638.5 723.4L1634.5 728.1L1630.5 732.8L1626.5 737.5L1622.5 742.2L1618.5 746.8L1614.5 751.4L1610.5 756L1606.5 760.5L1602.5 765L1598.5 769.5L1594.5 774L1590.5 778.4L1586.5 782.8L1582.5 787.2L1578.5 791.6L1574.5 795.9L1570.5 800.2L1566.5 804.4L1562.5 808.7L1558.5 812.9L1554.5 817L1550.5 821.2L1546.5 825.3L1542.5 829.4L1538.5 833.4L1534.5 837.4L1530.5 841.4L1526.5 845.4L1522.5 849.3L1518.5 853.2L1514.5 857.1L1510.5 860.9L1506.5 864.8L1502.5 868.6L1498.5 872.3L1494.5 876L1490.5 879.8L1486.5 883.4L1482.5 887.1L1478.5 890.7L1474.5 894.3L1470.5 897.9L1466.5 901.4L1462.5 904.9L1458.5 908.4L1454.5 911.9L1450.5 915.3L1446.5 918.7L1442.5 922.1L1438.5 925.5L1434.5 928.8L1430.5 932.2L1426.5 935.5L1422.5 938.8L1418.5 942L1414.5 945.3L1410.5 948.5L1406.5 951.8L1402.5 955L1398.5 958.2L1394.5 961.3L1390.5 964.5L1386.5 967.6L1382.5 970.8L1378.5 973.9L1374.5 977L1370.5 980.1L1366.5 983.2L1362.5 986.3L1358.5 989.4L1354.5 992.4L1350.5 995.5L1346.5 998.5L1342.5 1001.6L1338.5 1004.6L1334.5 1007.6L1330.5 1010.6L1326.5 1013.6L1322.5 1016.6L1318.5 1019.6L1314.5 1022.6L1310.5 1025.5L1306.5 1028.5L1302.5 1031.5L1298.5 1034.4L1294.5 1037.4L1290.5 1040.3L1286.5 1043.3L1282.5 1046.2L1278.5 1049.1L1274.5 1052.1L1270.5 1055L1266.5 1057.9L1262.5 1060.8L1258.5 1063.7L1254.5 1066.5L1250.5 1069.4L1246.5 1072.2L1242.5 1075L1238.5 1077.8L1234.5 1080.6L1230.5 1083.4L1226.5 1086.1L1222.5 1088.8L1218.5 1091.5L1214.5 1094.2L1210.5 1096.8L1206.5 1099.4L1202.5 1102L1198.5 1104.5L1194.5 1107.1L1190.5 1109.5L1186.5 1112L1182.5 1114.4L1178.5 1116.9L1174.5 1119.2L1170.5 1121.6L1166.5 1123.9L1162.5 1126.3L1158.5 1128.6L1154.5 1130.8L1150.5 1133.1L1146.5 1135.3L1142.5 1137.6L1138.5 1139.8L1134.5 1142L1130.5 1144.2L1126.5 1146.4L1122.5 1148.5L1118.5 1150.7L1114.5 1152.8L1110.5 1155L1106.5 1157.1L1102.5 1159.3L1098.5 1161.4L1094.5 1163.5L1090.5 1165.7L1086.5 1167.8L1082.5 1169.9L1078.5 1172L1074.5 1174.1L1070.5 1176.2L1066.5 1178.3L1062.5 1180.4L1058.5 1182.5L1054.5 1184.6L1050.5 1186.6L1046.5 1188.7L1042.5 1190.7L1038.5 1192.8L1034.5 1194.8L1030.5 1196.9L1026.5 1198.9L1022.5 1200.9L1018.5 1202.9L1014.5 1204.9L1010.5 1206.9L1006.5 1208.9L1002.5 1210.8L998.5 1212.8L994.5 1214.7L990.5 1216.7L986.5 1218.6L982.5 1220.5L978.5 1222.4L974.5 1224.3L970.5 1226.2L966.5 1228.1L962.5 1230L958.5 1231.8L954.5 1233.7L950.5 1235.5L946.5 1237.3L942.5 1239.1L938.5 1240.9L934.5 1242.7L930.5 1244.4L926.5 1246.2L922.5 1248L918.5 1249.7L914.5 1251.4L910.5 1253.1L906.5 1254.8L902.5 1256.5L898.5 1258.1L894.5 1259.8L890.5 1261.4L886.5 1263.1L882.5 1264.7L878.5 1266.3L874.5 1267.9L870.5 1269.4L866.5 1271L862.5 1272.5L858.5 1274.1L854.5 1275.6L850.5 1277.1L846.5 1278.6L842.5 1280L838.5 1281.5L834.5 1283L830.5 1284.4L826.5 1285.8L822.5 1287.2L818.5 1288.6L814.5 1290L810.5 1291.4L806.5 1292.7L802.5 1294.1L798.5 1295.4L794.5 1296.7L790.5 1298L786.5 1299.3L782.5 1300.5L778.5 1301.8L774.5 1303L770.5 1304.3L766.5 1305.5L762.5 1306.7L758.5 1307.8L754.5 1309L750.5 1310.1L746.5 1311.3L742.5 1312.4L738.5 1313.5L734.5 1314.6L730.5 1315.7L726.5 1316.7L722.5 1317.8L718.5 1318.8L714.5 1319.8L710.5 1320.8L706.5 1321.8L702.5 1322.7L698.5 1323.7L694.5 1324.6L690.5 1325.5L686.5 1326.4L682.5 1327.3L678.5 1328.1L674.5 1328.9L670.5 1329.8L666.5 1330.6L662.5 1331.4L658.5 1332.1L654.5 1332.9L650.5 1333.6L646.5 1334.3L642.5 1335L638.5 1335.7L634.5 1336.3L630.5 1336.9L626.5 1337.6L622.5 1338.1L618.5 1338.7L614.5 1339.3L610.5 1339.8L606.5 1340.3L602.5 1340.8L598.5 1341.2L594.5 1341.7L590.5 1342.1L586.5 1342.5L582.5 1342.8L578.5 1343.2L574.5 1343.5L570.5 1343.8L566.5 1344L562.5 1344.3L558.5 1344.5L554.5 1344.7L550.5 1344.9L546.5 1345L542.5 1345.1L538.5 1345.2L534.5 1345.3L530.5 1345.3L526.5 1345.3L522.5 1345.4L518.5 1345.3L514.5 1345.3L510.5 1345.3L506.5 1345.2L502.5 1345.1L498.5 1345L494.5 1344.9L490.5 1344.8L486.5 1344.7L482.5 1344.5L478.5 1344.3L474.5 1344.1L470.5 1344L466.5 1343.7L462.5 1343.5L458.5 1343.3L454.5 1343.1L450.5 1342.8L446.5 1342.6L442.5 1342.3L438.5 1342L434.5 1341.7L430.5 1341.5L426.5 1341.2L422.5 1340.9L418.5 1340.5L414.5 1340.2L410.5 1339.9L406.5 1339.6L402.5 1339.2L398.5 1338.9L394.5 1338.5L390.5 1338.2L386.5 1337.8L382.5 1337.4L378.5 1337.1L374.5 1336.7L370.5 1336.3L366.5 1335.9L362.5 1335.5L358.5 1335.1L354.5 1334.7L350.5 1334.3L346.5 1333.9L342.5 1333.5L338.5 1333L334.5 1332.6L330.5 1332.2L326.5 1331.7L322.5 1331.3L318.5 1330.9L314.5 1330.4L310.5 1330L306.5 1329.5L302.5 1329.1L298.5 1328.6L294.5 1328.2L290.5 1327.7L286.5 1327.3L282.5 1326.8L278.5 1326.4L276 1326.1L274.5 1325.9Z" fill="#0000ff"/>
<path d="M274.5 1357.9L276 1357.9L278.5 1358.1L282.5 1358.6L286.5 1359.2L290.5 1359.7L294.5 1360.2L298.5 1360.6L302.5 1361.1L306.5 1361.5L310.5 1361.8L314.5 1362.2L318.5 1362.5L322.5 1362.7L326.5 1363L330.5 1363.2L334.5 1363.4L338.5 1363.5L342.5 1363.6L346.5 1363.7L350.5 1363.8L354.5 1363.9L358.5 1363.9L362.5 1363.9L366.5 1363.8L370.5 1363.7L374.5 1363.6L378.5 1363.5L382.5 1363.4L386.5 1363.2L390.5 1363L394.5 1362.8L398.5 1362.5L402.5 1362.3L406.5 1362L410.5 1361.7L414.5 1361.4L418.5 1361L422.5 1360.7L426.5 1360.3L430.5 1359.9L434.5 1359.5L438.5 1359L442.5 1358.6L446.5 1358.1L450.5 1357.6L454.5 1357.1L458.5 1356.6L462.5 1356.1L466.5 1355.5L470.5 1354.9L474.5 1354.4L478.5 1353.8L482.5 1353.2L486.5 1352.5L490.5 1351.9L494.5 1351.2L498.5 1350.6L502.5 1349.9L506.5 1349.2L510.5 1348.5L514.5 1347.8L518.5 1347L522.5 1346.3L526.5 1345.5L530.5 1344.7L534.5 1344L538.5 1343.2L542.5 1342.4L546.5 1341.5L550.5 1340.7L554.5 1339.9L558.5 1339L562.5 1338.2L566.5 1337.3L570.5 1336.4L574.5 1335.5L578.5 1334.6L582.5 1333.7L586.5 1332.8L590.5 1331.9L594.5 1330.9L598.5 1330L602.5 1329L606.5 1328.1L610.5 1327.1L614.5 1326.1L618.5 1325.1L622.5 1324.1L626.5 1323.1L630.5 1322.1L634.5 1321.1L638.5 1320.1L642.5 1319.1L646.5 1318L650.5 1317L654.5 1315.9L658.5 1314.9L662.5 1313.8L666.5 1312.8L670.5 1311.7L674.5 1310.6L678.5 1309.5L682.5 1308.4L686.5 1307.3L690.5 1306.2L694.5 1305.1L698.5 1304L702.5 1302.8L706.5 1301.7L710.5 1300.5L714.5 1299.3L718.5 1298.1L722.5 1297L726.5 1295.7L730.5 1294.5L734.5 1293.3L738.5 1292.1L742.5 1290.8L746.5 1289.6L750.5 1288.3L754.5 1287L758.5 1285.7L762.5 1284.4L766.5 1283.1L770.5 1281.7L774.5 1280.4L778.5 1279.1L782.5 1277.7L786.5 1276.3L790.5 1274.9L794.5 1273.5L798.5 1272.1L802.5 1270.7L806.5 1269.3L810.5 1267.8L814.5 1266.4L818.5 1264.9L822.5 1263.5L826.5 1262L830.5 1260.5L834.5 1259L838.5 1257.5L842.5 1255.9L846.5 1254.4L850.5 1252.9L854.5 1251.3L858.5 1249.7L862.5 1248.2L866.5 1246.6L870.5 1245L874.5 1243.4L878.5 1241.8L882.5 1240.1L886.5 1238.5L890.5 1236.9L894.5 1235.2L898.5 1233.5L902.5 1231.9L906.5 1230.2L910.5 1228.5L914.5 1226.8L918.5 1225L922.5 1223.3L926.5 1221.6L930.5 1219.8L934.5 1218L938.5 1216.3L942.5 1214.5L946.5 1212.7L950.5 1210.9L954.5 1209.1L958.5 1207.3L962.5 1205.4L966.5 1203.6L970.5 1201.8L974.5 1199.9L978.5 1198L982.5 1196.2L986.5 1194.3L990.5 1192.4L994.5 1190.5L998.5 1188.6L1002.5 1186.7L1006.5 1184.8L1010.5 1182.9L1014.5 1180.9L1018.5 1179L1022.5 1177.1L1026.5 1175.1L1030.5 1173.1L1034.5 1171.2L1038.5 1169.2L1042.5 1167.2L1046.5 1165.2L1050.5 1163.2L1054.5 1161.2L1058.5 1159.1L1062.5 1157.1L1066.5 1155L1070.5 1152.9L1074.5 1150.8L1078.5 1148.7L1082.5 1146.6L1086.5 1144.5L1090.5 1142.3L1094.5 1140.2L1098.5 1138L1102.5 1135.8L1106.5 1133.6L1110.5 1131.4L1114.5 1129.1L1118.5 1126.8L1122.5 1124.6L1126.5 1122.3L1130.5 1119.9L1134.5 1117.6L1138.5 1115.3L1142.5 1112.9L1146.5 1110.5L1150.5 1108.1L1154.5 1105.7L1158.5 1103.3L1162.5 1100.9L1166.5 1098.5L1170.5 1096L1174.5 1093.5L1178.5 1091.1L1182.5 1088.6L1186.5 1086.1L1190.5 1083.6L1194.5 1081.1L1198.5 1078.5L1202.5 1076L1206.5 1073.5L1210.5 1070.9L1214.5 1068.3L1218.5 1065.8L1222.5 1063.2L1226.5 1060.6L1230.5 1058L1234.5 1055.4L1238.5 1052.7L1242.5 1050.1L1246.5 1047.4L1250.5 1044.8L1254.5 1042.1L1258.5 1039.4L1262.5 1036.7L1266.5 1034L1270.5 1031.3L1274.5 1028.5L1278.5 1025.8L1282.5 1023L1286.5 1020.2L1290.5 1017.4L1294.5 1014.6L1298.5 1011.8L1302.5 1008.9L1306.5 1006.1L1310.5 1003.2L1314.5 1000.3L1318.5 997.4L1322.5 994.5L1326.5 991.6L1330.5 988.7L1334.5 985.7L1338.5 982.7L1342.5 979.8L1346.5 976.8L1350.5 973.8L1354.5 970.8L1358.5 967.8L1362.5 964.8L1366.5 961.7L1370.5 958.7L1374.5 955.6L1378.5 952.5L1382.5 949.5L1386.5 946.4L1390.5 943.3L1394.5 940.2L1398.5 937L1402.5 933.9L1406.5 930.7L1410.5 927.6L1414.5 924.4L1418.5 921.2L1422.5 918L1426.5 914.8L1430.5 911.5L1434.5 908.2L1438.5 905L1442.5 901.6L1446.5 898.3L1450.5 895L1454.5 891.6L1458.5 888.2L1462.5 884.8L1466.5 881.3L1470.5 877.8L1474.5 874.3L1478.5 870.8L1482.5 867.2L1486.5 863.6L1490.5 860L1494.5 856.4L1498.5 852.7L1502.5 849L1506.5 845.3L1510.5 841.6L1514.5 837.8L1518.5 834L1522.5 830.1L1526.5 826.3L1530.5 822.4L1534.5 818.5L1538.5 814.5L1542.5 810.5L1546.5 806.5L1550.5 802.5L1554.5 798.4L1558.5 794.3L1562.5 790.2L1566.5 786.1L1570.5 781.9L1574.5 777.7L1578.5 773.4L1582.5 769.2L1586.5 764.9L1590.5 760.6L1594.5 756.2L1598.5 751.9L1602.5 747.5L1606.5 743.1L1610.5 738.6L1614.5 734.2L1618.5 729.7L1622.5 725.2L1626.5 720.7L1630.5 716.1L1634.5 711.5L1638.5 706.9L1642.5 702.3L1646.5 697.7L1650.5 693.1L1654.5 688.4L1658.5 683.7L1662.5 679L1666.5 674.3L1670.5 669.6L1674.5 664.8L1678.5 660L1682.5 655.2L1686.5 650.3L1690.5 645.4L1694.5 640.4L1698.5 635.4L1702.5 630.4L1706.5 625.2L1710.5 620.1L1714.5 614.8L1718.5 609.6L1722.5 604.2L1726.5 598.8L1730.5 593.3L1734.5 587.7L1738.5 582L1742.5 576.3L1746.5 570.4L1750.5 564.5L1754.5 558.5L1758.5 552.4L1762.5 546.2L1766.5 540L1770.5 533.7L1774.5 527.4L1778.5 521L1782.5 514.6L1786.5 508.2L1790.5 501.7L1794.5 495.3L1798.5 488.9L1802.5 482.5L1806.5 476.1L1810.5 469.7L1814.5 463.4L1818.5 457.1L1822.5 450.9L1826.5 444.8L1830.5 438.7L1834.5 432.7L1838.5 426.8L1842.5 422.1L1843.2 422.1L1844.8 422.1L1844.8 425.1L1843.2 427.3L1842.5 428.4L1838.5 434.2L1834.5 440.2L1830.5 446.2L1826.5 452.4L1822.5 458.6L1818.5 464.8L1814.5 471.1L1810.5 477.5L1806.5 483.9L1802.5 490.3L1798.5 496.7L1794.5 503.1L1790.5 509.6L1786.5 516L1782.5 522.4L1778.5 528.8L1774.5 535.1L1770.5 541.4L1766.5 547.7L1762.5 553.9L1758.5 560L1754.5 566L1750.5 572L1746.5 577.8L1742.5 583.6L1738.5 589.3L1734.5 594.9L1730.5 600.4L1726.5 605.8L1722.5 611.2L1718.5 616.5L1714.5 621.8L1710.5 627L1706.5 632.1L1702.5 637.1L1698.5 642.2L1694.5 647.1L1690.5 652.1L1686.5 656.9L1682.5 661.8L1678.5 666.6L1674.5 671.4L1670.5 676.1L1666.5 680.9L1662.5 685.6L1658.5 690.2L1654.5 694.9L1650.5 699.6L1646.5 704.2L1642.5 708.8L1638.5 713.4L1634.5 718L1630.5 722.5L1626.5 727L1622.5 731.6L1618.5 736L1614.5 740.5L1610.5 745L1606.5 749.4L1602.5 753.8L1598.5 758.1L1594.5 762.5L1590.5 766.8L1586.5 771.1L1582.5 775.4L1578.5 779.6L1574.5 783.8L1570.5 788L1566.5 792.2L1562.5 796.3L1558.5 800.4L1554.5 804.5L1550.5 808.5L1546.5 812.5L1542.5 816.5L1538.5 820.5L1534.5 824.4L1530.5 828.3L1526.5 832.2L1522.5 836L1518.5 839.8L1514.5 843.6L1510.5 847.4L1506.5 851.1L1502.5 854.8L1498.5 858.5L1494.5 862.1L1490.5 865.7L1486.5 869.3L1482.5 872.9L1478.5 876.4L1474.5 880L1470.5 883.4L1466.5 886.9L1462.5 890.3L1458.5 893.7L1454.5 897.1L1450.5 900.5L1446.5 903.8L1442.5 907.1L1438.5 910.4L1434.5 913.7L1430.5 916.9L1426.5 920.2L1422.5 923.4L1418.5 926.6L1414.5 929.8L1410.5 933L1406.5 936.1L1402.5 939.3L1398.5 942.4L1394.5 945.5L1390.5 948.6L1386.5 951.7L1382.5 954.8L1378.5 957.8L1374.5 960.9L1370.5 964L1366.5 967L1362.5 970L1358.5 973L1354.5 976L1350.5 979L1346.5 982L1342.5 985L1338.5 988L1334.5 990.9L1330.5 993.9L1326.5 996.8L1322.5 999.7L1318.5 1002.6L1314.5 1005.5L1310.5 1008.3L1306.5 1011.2L1302.5 1014L1298.5 1016.9L1294.5 1019.7L1290.5 1022.5L1286.5 1025.3L1282.5 1028.1L1278.5 1030.8L1274.5 1033.6L1270.5 1036.3L1266.5 1039L1262.5 1041.7L1258.5 1044.4L1254.5 1047.1L1250.5 1049.8L1246.5 1052.4L1242.5 1055.1L1238.5 1057.7L1234.5 1060.3L1230.5 1062.9L1226.5 1065.5L1222.5 1068.1L1218.5 1070.7L1214.5 1073.3L1210.5 1075.8L1206.5 1078.4L1202.5 1080.9L1198.5 1083.4L1194.5 1085.9L1190.5 1088.5L1186.5 1091L1182.5 1093.4L1178.5 1095.9L1174.5 1098.4L1170.5 1100.8L1166.5 1103.3L1162.5 1105.7L1158.5 1108.1L1154.5 1110.5L1150.5 1112.9L1146.5 1115.3L1142.5 1117.7L1138.5 1120L1134.5 1122.4L1130.5 1124.7L1126.5 1127L1122.5 1129.3L1118.5 1131.5L1114.5 1133.8L1110.5 1136L1106.5 1138.3L1102.5 1140.5L1098.5 1142.6L1094.5 1144.8L1090.5 1147L1086.5 1149.1L1082.5 1151.2L1078.5 1153.3L1074.5 1155.4L1070.5 1157.5L1066.5 1159.6L1062.5 1161.6L1058.5 1163.6L1054.5 1165.7L1050.5 1167.7L1046.5 1169.7L1042.5 1171.7L1038.5 1173.7L1034.5 1175.6L1030.5 1177.6L1026.5 1179.6L1022.5 1181.5L1018.5 1183.4L1014.5 1185.4L1010.5 1187.3L1006.5 1189.2L1002.5 1191.1L998.5 1193L994.5 1194.9L990.5 1196.8L986.5 1198.7L982.5 1200.6L978.5 1202.4L974.5 1204.3L970.5 1206.1L966.5 1208L962.5 1209.8L958.5 1211.6L954.5 1213.4L950.5 1215.3L946.5 1217L942.5 1218.8L938.5 1220.6L934.5 1222.4L930.5 1224.1L926.5 1225.9L922.5 1227.6L918.5 1229.3L914.5 1231L910.5 1232.7L906.5 1234.4L902.5 1236.1L898.5 1237.8L894.5 1239.4L890.5 1241.1L886.5 1242.7L882.5 1244.4L878.5 1246L874.5 1247.6L870.5 1249.2L866.5 1250.8L862.5 1252.4L858.5 1253.9L854.5 1255.5L850.5 1257L846.5 1258.6L842.5 1260.1L838.5 1261.6L834.5 1263.1L830.5 1264.6L826.5 1266.1L822.5 1267.6L818.5 1269L814.5 1270.5L810.5 1271.9L806.5 1273.3L802.5 1274.8L798.5 1276.2L794.5 1277.6L790.5 1279L786.5 1280.3L782.5 1281.7L778.5 1283.1L774.5 1284.4L770.5 1285.7L766.5 1287.1L762.5 1288.4L758.5 1289.7L754.5 1291L750.5 1292.2L746.5 1293.5L742.5 1294.8L738.5 1296L734.5 1297.2L730.5 1298.4L726.5 1299.7L722.5 1300.8L718.5 1302L714.5 1303.2L710.5 1304.4L706.5 1305.5L702.5 1306.7L698.5 1307.8L694.5 1308.9L690.5 1310L686.5 1311.2L682.5 1312.3L678.5 1313.3L674.5 1314.4L670.5 1315.5L666.5 1316.6L662.5 1317.6L658.5 1318.7L654.5 1319.7L650.5 1320.8L646.5 1321.8L642.5 1322.8L638.5 1323.8L634.5 1324.9L630.5 1325.9L626.5 1326.9L622.5 1327.9L618.5 1328.9L614.5 1329.8L610.5 1330.8L606.5 1331.8L602.5 1332.7L598.5 1333.7L594.5 1334.6L590.5 1335.5L586.5 1336.5L582.5 1337.4L578.5 1338.3L574.5 1339.2L570.5 1340.1L566.5 1340.9L562.5 1341.8L558.5 1342.7L554.5 1343.5L550.5 1344.3L546.5 1345.2L542.5 1346L538.5 1346.8L534.5 1347.5L530.5 1348.3L526.5 1349.1L522.5 1349.8L518.5 1350.6L514.5 1351.3L510.5 1352L506.5 1352.7L502.5 1353.4L498.5 1354.1L494.5 1354.7L490.5 1355.4L486.5 1356L482.5 1356.6L478.5 1357.2L474.5 1357.8L470.5 1358.4L466.5 1358.9L462.5 1359.5L458.5 1360L454.5 1360.5L450.5 1361L446.5 1361.5L442.5 1361.9L438.5 1362.4L434.5 1362.8L430.5 1363.2L426.5 1363.6L422.5 1363.9L418.5 1364.3L414.5 1364.6L410.5 1364.9L406.5 1365.2L402.5 1365.5L398.5 1365.7L394.5 1365.9L390.5 1366.1L386.5 1366.3L382.5 1366.5L378.5 1366.6L374.5 1366.7L370.5 1366.8L366.5 1366.8L362.5 1366.9L358.5 1366.9L354.5 1366.9L350.5 1366.8L346.5 1366.8L342.5 1366.7L338.5 1366.6L334.5 1366.5L330.5 1366.3L326.5 1366.1L322.5 1365.9L318.5 1365.7L314.5 1365.4L310.5 1365.1L306.5 1364.7L302.5 1364.4L298.5 1364L294.5 1363.5L290.5 1363.1L286.5 1362.6L282.5 1362.1L278.5 1361.5L276 1361.1L274.5 1360.9Z" fill="#008080"/>
<path d="M274.5 1331L276 1331L278.5 1331.1L282.5 1331.5L286.5 1331.9L290.5 1332.2L294.5 1332.6L298.5 1332.9L302.5 1333.2L306.5 1333.5L310.5 1333.8L314.5 1334L318.5 1334.3L322.5 1334.5L326.5 1334.7L330.5 1334.9L334.5 1335.1L338.5 1335.3L342.5 1335.4L346.5 1335.5L350.5 1335.7L354.5 1335.8L358.5 1335.8L362.5 1335.9L366.5 1336L370.5 1336L374.5 1336L378.5 1336L382.5 1336L386.5 1336L390.5 1335.9L394.5 1335.8L398.5 1335.8L402.5 1335.7L406.5 1335.5L410.5 1335.4L414.5 1335.2L418.5 1335.1L422.5 1334.9L426.5 1334.7L430.5 1334.5L434.5 1334.2L438.5 1334L442.5 1333.7L446.5 1333.4L450.5 1333.1L454.5 1332.8L458.5 1332.5L462.5 1332.2L466.5 1331.8L470.5 1331.4L474.5 1331L478.5 1330.6L482.5 1330.2L486.5 1329.7L490.5 1329.2L494.5 1328.8L498.5 1328.3L502.5 1327.7L506.5 1327.2L510.5 1326.6L514.5 1326L518.5 1325.4L522.5 1324.8L526.5 1324.2L530.5 1323.5L534.5 1322.8L538.5 1322.1L542.5 1321.4L546.5 1320.7L550.5 1319.9L554.5 1319.1L558.5 1318.3L562.5 1317.5L566.5 1316.6L570.5 1315.7L574.5 1314.9L578.5 1313.9L582.5 1313L586.5 1312.1L590.5 1311.1L594.5 1310.2L598.5 1309.2L602.5 1308.2L606.5 1307.2L610.5 1306.1L614.5 1305.1L618.5 1304L622.5 1303L626.5 1301.9L630.5 1300.8L634.5 1299.8L638.5 1298.7L642.5 1297.6L646.5 1296.5L650.5 1295.4L654.5 1294.2L658.5 1293.1L662.5 1292L666.5 1290.8L670.5 1289.7L674.5 1288.5L678.5 1287.4L682.5 1286.2L686.5 1285L690.5 1283.8L694.5 1282.6L698.5 1281.3L702.5 1280.1L706.5 1278.8L710.5 1277.6L714.5 1276.3L718.5 1275L722.5 1273.6L726.5 1272.3L730.5 1270.9L734.5 1269.5L738.5 1268.1L742.5 1266.7L746.5 1265.3L750.5 1263.8L754.5 1262.4L758.5 1260.9L762.5 1259.4L766.5 1257.9L770.5 1256.3L774.5 1254.8L778.5 1253.2L782.5 1251.7L786.5 1250.1L790.5 1248.5L794.5 1246.9L798.5 1245.3L802.5 1243.7L806.5 1242.1L810.5 1240.5L814.5 1238.8L818.5 1237.2L822.5 1235.6L826.5 1233.9L830.5 1232.3L834.5 1230.6L838.5 1229L842.5 1227.3L846.5 1225.7L850.5 1224L854.5 1222.3L858.5 1220.7L862.5 1219L866.5 1217.3L870.5 1215.6L874.5 1213.9L878.5 1212.2L882.5 1210.4L886.5 1208.7L890.5 1206.9L894.5 1205.1L898.5 1203.4L902.5 1201.6L906.5 1199.7L910.5 1197.9L914.5 1196L918.5 1194.2L922.5 1192.3L926.5 1190.4L930.5 1188.4L934.5 1186.5L938.5 1184.5L942.5 1182.5L946.5 1180.5L950.5 1178.5L954.5 1176.5L958.5 1174.5L962.5 1172.4L966.5 1170.3L970.5 1168.3L974.5 1166.2L978.5 1164.1L982.5 1161.9L986.5 1159.8L990.5 1157.7L994.5 1155.5L998.5 1153.4L1002.5 1151.2L1006.5 1149.1L1010.5 1146.9L1014.5 1144.7L1018.5 1142.5L1022.5 1140.3L1026.5 1138.1L1030.5 1135.9L1034.5 1133.7L1038.5 1131.5L1042.5 1129.3L1046.5 1127L1050.5 1124.8L1054.5 1122.5L1058.5 1120.2L1062.5 1118L1066.5 1115.7L1070.5 1113.3L1074.5 1111L1078.5 1108.7L1082.5 1106.3L1086.5 1104L1090.5 1101.6L1094.5 1099.2L1098.5 1096.8L1102.5 1094.3L1106.5 1091.9L1110.5 1089.4L1114.5 1086.9L1118.5 1084.4L1122.5 1081.9L1126.5 1079.3L1130.5 1076.8L1134.5 1074.2L1138.5 1071.6L1142.5 1069L1146.5 1066.4L1150.5 1063.8L1154.5 1061.1L1158.5 1058.5L1162.5 1055.8L1166.5 1053.1L1170.5 1050.4L1174.5 1047.7L1178.5 1044.9L1182.5 1042.2L1186.5 1039.4L1190.5 1036.7L1194.5 1033.9L1198.5 1031.1L1202.5 1028.3L1206.5 1025.5L1210.5 1022.7L1214.5 1019.8L1218.5 1017L1222.5 1014.1L1226.5 1011.2L1230.5 1008.4L1234.5 1005.5L1238.5 1002.6L1242.5 999.6L1246.5 996.7L1250.5 993.8L1254.5 990.8L1258.5 987.8L1262.5 984.8L1266.5 981.8L1270.5 978.8L1274.5 975.8L1278.5 972.8L1282.5 969.7L1286.5 966.6L1290.5 963.6L1294.5 960.5L1298.5 957.4L1302.5 954.2L1306.5 951.1L1310.5 947.9L1314.5 944.8L1318.5 941.6L1322.5 938.4L1326.5 935.2L1330.5 931.9L1334.5 928.7L1338.5 925.4L1342.5 922.2L1346.5 918.9L1350.5 915.6L1354.5 912.2L1358.5 908.9L1362.5 905.5L1366.5 902.1L1370.5 898.8L1374.5 895.3L1378.5 891.9L1382.5 888.5L1386.5 885L1390.5 881.5L1394.5 878L1398.5 874.5L1402.5 871L1406.5 867.4L1410.5 863.9L1414.5 860.3L1418.5 856.6L1422.5 853L1426.5 849.4L1430.5 845.7L1434.5 842L1438.5 838.3L1442.5 834.5L1446.5 830.7L1450.5 827L1454.5 823.1L1458.5 819.3L1462.5 815.4L1466.5 811.6L1470.5 807.6L1474.5 803.7L1478.5 799.8L1482.5 795.8L1486.5 791.8L1490.5 787.7L1494.5 783.7L1498.5 779.6L1502.5 775.5L1506.5 771.3L1510.5 767.2L1514.5 763L1518.5 758.8L1522.5 754.5L1526.5 750.3L1530.5 746L1534.5 741.7L1538.5 737.4L1542.5 733L1546.5 728.6L1550.5 724.2L1554.5 719.8L1558.5 715.3L1562.5 710.9L1566.5 706.4L1570.5 701.9L1574.5 697.3L1578.5 692.7L1582.5 688.1L1586.5 683.5L1590.5 678.9L1594.5 674.2L1598.5 669.5L1602.5 664.7L1606.5 659.9L1610.5 655.1L1614.5 650.3L1618.5 645.4L1622.5 640.5L1626.5 635.5L1630.5 630.5L1634.5 625.5L1638.5 620.4L1642.5 615.2L1646.5 610.1L1650.5 604.8L1654.5 599.6L1658.5 594.3L1662.5 588.9L1666.5 583.5L1670.5 578L1674.5 572.5L1678.5 567L1682.5 561.4L1686.5 555.8L1690.5 550.1L1694.5 544.4L1698.5 538.6L1702.5 532.9L1706.5 527L1710.5 521.2L1714.5 515.2L1718.5 509.3L1722.5 503.3L1726.5 497.3L1730.5 491.3L1734.5 485.2L1738.5 479.1L1742.5 472.9L1746.5 466.7L1750.5 460.5L1754.5 454.3L1758.5 448L1762.5 441.7L1766.5 435.4L1770.5 429L1774.5 422.6L1778.5 416.1L1782.5 409.6L1786.5 403L1790.5 396.4L1794.5 389.7L1798.5 382.9L1802.5 376.1L1806.5 369.2L1810.5 362.2L1814.5 355.2L1818.5 348.1L1822.5 340.9L1826.5 333.6L1830.5 326.2L1834.5 318.8L1838.5 311.2L1842.5 305L1843.2 305L1844.8 305L1844.8 308L1843.2 310.9L1842.5 312.3L1838.5 319.9L1834.5 327.4L1830.5 334.8L1826.5 342.1L1822.5 349.3L1818.5 356.4L1814.5 363.5L1810.5 370.5L1806.5 377.4L1802.5 384.2L1798.5 391L1794.5 397.7L1790.5 404.4L1786.5 411L1782.5 417.5L1778.5 424L1774.5 430.4L1770.5 436.8L1766.5 443.2L1762.5 449.5L1758.5 455.7L1754.5 462L1750.5 468.2L1746.5 474.4L1742.5 480.5L1738.5 486.7L1734.5 492.7L1730.5 498.8L1726.5 504.8L1722.5 510.8L1718.5 516.8L1714.5 522.7L1710.5 528.6L1706.5 534.4L1702.5 540.2L1698.5 546L1694.5 551.7L1690.5 557.4L1686.5 563L1682.5 568.6L1678.5 574.2L1674.5 579.7L1670.5 585.1L1666.5 590.6L1662.5 595.9L1658.5 601.3L1654.5 606.5L1650.5 611.8L1646.5 616.9L1642.5 622.1L1638.5 627.2L1634.5 632.2L1630.5 637.3L1626.5 642.2L1622.5 647.2L1618.5 652.1L1614.5 656.9L1610.5 661.7L1606.5 666.5L1602.5 671.3L1598.5 676L1594.5 680.7L1590.5 685.4L1586.5 690L1582.5 694.6L1578.5 699.2L1574.5 703.7L1570.5 708.2L1566.5 712.7L1562.5 717.2L1558.5 721.7L1554.5 726.1L1550.5 730.5L1546.5 734.9L1542.5 739.3L1538.5 743.6L1534.5 747.9L1530.5 752.2L1526.5 756.5L1522.5 760.7L1518.5 764.9L1514.5 769.1L1510.5 773.3L1506.5 777.4L1502.5 781.5L1498.5 785.6L1494.5 789.7L1490.5 793.7L1486.5 797.8L1482.5 801.8L1478.5 805.7L1474.5 809.7L1470.5 813.6L1466.5 817.5L1462.5 821.3L1458.5 825.2L1454.5 829L1450.5 832.8L1446.5 836.6L1442.5 840.3L1438.5 844.1L1434.5 847.8L1430.5 851.4L1426.5 855.1L1422.5 858.7L1418.5 862.4L1414.5 866L1410.5 869.5L1406.5 873.1L1402.5 876.6L1398.5 880.2L1394.5 883.7L1390.5 887.1L1386.5 890.6L1382.5 894.1L1378.5 897.5L1374.5 900.9L1370.5 904.3L1366.5 907.7L1362.5 911L1358.5 914.4L1354.5 917.7L1350.5 921L1346.5 924.3L1342.5 927.6L1338.5 930.9L1334.5 934.1L1330.5 937.4L1326.5 940.6L1322.5 943.8L1318.5 947L1314.5 950.1L1310.5 953.3L1306.5 956.4L1302.5 959.6L1298.5 962.7L1294.5 965.8L1290.5 968.9L1286.5 971.9L1282.5 975L1278.5 978L1274.5 981.1L1270.5 984.1L1266.5 987.1L1262.5 990.1L1258.5 993.1L1254.5 996L1250.5 999L1246.5 1001.9L1242.5 1004.8L1238.5 1007.7L1234.5 1010.6L1230.5 1013.5L1226.5 1016.4L1222.5 1019.3L1218.5 1022.1L1214.5 1025L1210.5 1027.8L1206.5 1030.6L1202.5 1033.4L1198.5 1036.2L1194.5 1039L1190.5 1041.7L1186.5 1044.5L1182.5 1047.3L1178.5 1050L1174.5 1052.7L1170.5 1055.4L1166.5 1058.1L1162.5 1060.8L1158.5 1063.5L1154.5 1066.1L1150.5 1068.7L1146.5 1071.4L1142.5 1074L1138.5 1076.6L1134.5 1079.1L1130.5 1081.7L1126.5 1084.3L1122.5 1086.8L1118.5 1089.3L1114.5 1091.8L1110.5 1094.3L1106.5 1096.7L1102.5 1099.2L1098.5 1101.6L1094.5 1104L1090.5 1106.4L1086.5 1108.7L1082.5 1111.1L1078.5 1113.4L1074.5 1115.8L1070.5 1118.1L1066.5 1120.4L1062.5 1122.7L1058.5 1124.9L1054.5 1127.2L1050.5 1129.5L1046.5 1131.7L1042.5 1133.9L1038.5 1136.2L1034.5 1138.4L1030.5 1140.6L1026.5 1142.8L1022.5 1145L1018.5 1147.2L1014.5 1149.3L1010.5 1151.5L1006.5 1153.7L1002.5 1155.8L998.5 1158L994.5 1160.1L990.5 1162.3L986.5 1164.4L982.5 1166.5L978.5 1168.6L974.5 1170.7L970.5 1172.8L966.5 1174.9L962.5 1177L958.5 1179L954.5 1181L950.5 1183L946.5 1185L942.5 1187L938.5 1189L934.5 1191L930.5 1192.9L926.5 1194.8L922.5 1196.7L918.5 1198.6L914.5 1200.4L910.5 1202.3L906.5 1204.1L902.5 1205.9L898.5 1207.7L894.5 1209.5L890.5 1211.2L886.5 1213L882.5 1214.7L878.5 1216.4L874.5 1218.2L870.5 1219.9L866.5 1221.6L862.5 1223.2L858.5 1224.9L854.5 1226.6L850.5 1228.3L846.5 1229.9L842.5 1231.6L838.5 1233.2L834.5 1234.9L830.5 1236.5L826.5 1238.1L822.5 1239.8L818.5 1241.4L814.5 1243L810.5 1244.7L806.5 1246.3L802.5 1247.9L798.5 1249.5L794.5 1251.1L790.5 1252.7L786.5 1254.3L782.5 1255.8L778.5 1257.4L774.5 1258.9L770.5 1260.5L766.5 1262L762.5 1263.5L758.5 1265L754.5 1266.5L750.5 1267.9L746.5 1269.4L742.5 1270.8L738.5 1272.2L734.5 1273.6L730.5 1275L726.5 1276.3L722.5 1277.6L718.5 1278.9L714.5 1280.2L710.5 1281.5L706.5 1282.8L702.5 1284L698.5 1285.3L694.5 1286.5L690.5 1287.7L686.5 1288.9L682.5 1290.1L678.5 1291.2L674.5 1292.4L670.5 1293.6L666.5 1294.7L662.5 1295.8L658.5 1297L654.5 1298.1L650.5 1299.2L646.5 1300.3L642.5 1301.4L638.5 1302.5L634.5 1303.6L630.5 1304.7L626.5 1305.7L622.5 1306.8L618.5 1307.8L614.5 1308.9L610.5 1309.9L606.5 1310.9L602.5 1311.9L598.5 1312.9L594.5 1313.9L590.5 1314.8L586.5 1315.8L582.5 1316.7L578.5 1317.6L574.5 1318.5L570.5 1319.4L566.5 1320.3L562.5 1321.1L558.5 1321.9L554.5 1322.7L550.5 1323.5L546.5 1324.2L542.5 1325L538.5 1325.7L534.5 1326.3L530.5 1327L526.5 1327.7L522.5 1328.3L518.5 1328.9L514.5 1329.5L510.5 1330L506.5 1330.6L502.5 1331.1L498.5 1331.6L494.5 1332.1L490.5 1332.6L486.5 1333.1L482.5 1333.5L478.5 1333.9L474.5 1334.3L470.5 1334.7L466.5 1335.1L462.5 1335.4L458.5 1335.7L454.5 1336.1L450.5 1336.4L446.5 1336.7L442.5 1336.9L438.5 1337.2L434.5 1337.4L430.5 1337.6L426.5 1337.8L422.5 1338L418.5 1338.2L414.5 1338.4L410.5 1338.5L406.5 1338.6L402.5 1338.7L398.5 1338.8L394.5 1338.9L390.5 1339L386.5 1339L382.5 1339L378.5 1339L374.5 1339L370.5 1339L366.5 1339L362.5 1339L358.5 1338.9L354.5 1338.8L350.5 1338.7L346.5 1338.6L342.5 1338.5L338.5 1338.4L334.5 1338.2L330.5 1338L326.5 1337.9L322.5 1337.7L318.5 1337.4L314.5 1337.2L310.5 1337L306.5 1336.7L302.5 1336.4L298.5 1336.1L294.5 1335.8L290.5 1335.5L286.5 1335.1L282.5 1334.8L278.5 1334.4L276 1334.1L274.5 1334Z" fill="#ff00ff"/>
<path d="M274.5 1310.3L276 1310.3L278.5 1310.4L282.5 1310.8L286.5 1311.2L290.5 1311.6L294.5 1312L298.5 1312.4L302.5 1312.8L306.5 1313.1L310.5 1313.5L314.5 1313.8L318.5 1314.2L322.5 1314.5L326.5 1314.8L330.5 1315.1L334.5 1315.4L338.5 1315.7L342.5 1316L346.5 1316.2L350.5 1316.5L354.5 1316.7L358.5 1317L362.5 1317.2L366.5 1317.4L370.5 1317.7L374.5 1317.9L378.5 1318.1L382.5 1318.3L386.5 1318.4L390.5 1318.6L394.5 1318.8L398.5 1318.9L402.5 1319.1L406.5 1319.2L410.5 1319.4L414.5 1319.5L418.5 1319.6L422.5 1319.7L426.5 1319.9L430.5 1320L434.5 1320.1L438.5 1320.1L442.5 1320.2L446.5 1320.3L450.5 1320.4L454.5 1320.4L458.5 1320.5L462.5 1320.5L466.5 1320.5L470.5 1320.6L474.5 1320.6L478.5 1320.6L482.5 1320.6L486.5 1320.6L490.5 1320.6L494.5 1320.6L498.5 1320.5L502.5 1320.5L506.5 1320.4L510.5 1320.3L514.5 1320.2L518.5 1320.1L522.5 1320L526.5 1319.8L530.5 1319.6L534.5 1319.5L538.5 1319.3L542.5 1319.1L546.5 1318.8L550.5 1318.6L554.5 1318.3L558.5 1318L562.5 1317.7L566.5 1317.3L570.5 1317L574.5 1316.6L578.5 1316.2L582.5 1315.8L586.5 1315.4L590.5 1314.9L594.5 1314.4L598.5 1313.9L602.5 1313.4L606.5 1312.9L610.5 1312.4L614.5 1311.8L618.5 1311.2L622.5 1310.6L626.5 1310L630.5 1309.3L634.5 1308.7L638.5 1308L642.5 1307.3L646.5 1306.6L650.5 1305.8L654.5 1305.1L658.5 1304.3L662.5 1303.5L666.5 1302.7L670.5 1301.9L674.5 1301.1L678.5 1300.2L682.5 1299.4L686.5 1298.5L690.5 1297.6L694.5 1296.7L698.5 1295.8L702.5 1294.8L706.5 1293.9L710.5 1292.9L714.5 1292L718.5 1291L722.5 1290L726.5 1289L730.5 1288L734.5 1287L738.5 1285.9L742.5 1284.9L746.5 1283.8L750.5 1282.8L754.5 1281.7L758.5 1280.6L762.5 1279.5L766.5 1278.4L770.5 1277.3L774.5 1276.2L778.5 1275L782.5 1273.9L786.5 1272.7L790.5 1271.5L794.5 1270.3L798.5 1269.1L802.5 1267.8L806.5 1266.6L810.5 1265.3L814.5 1264L818.5 1262.7L822.5 1261.4L826.5 1260L830.5 1258.7L834.5 1257.3L838.5 1255.9L842.5 1254.5L846.5 1253L850.5 1251.6L854.5 1250.1L858.5 1248.6L862.5 1247.1L866.5 1245.6L870.5 1244.1L874.5 1242.5L878.5 1241L882.5 1239.4L886.5 1237.8L890.5 1236.2L894.5 1234.6L898.5 1233L902.5 1231.4L906.5 1229.8L910.5 1228.1L914.5 1226.5L918.5 1224.8L922.5 1223.2L926.5 1221.5L930.5 1219.8L934.5 1218.1L938.5 1216.5L942.5 1214.8L946.5 1213.1L950.5 1211.4L954.5 1209.6L958.5 1207.9L962.5 1206.2L966.5 1204.4L970.5 1202.7L974.5 1200.9L978.5 1199.2L982.5 1197.4L986.5 1195.6L990.5 1193.8L994.5 1192L998.5 1190.2L1002.5 1188.3L1006.5 1186.5L1010.5 1184.6L1014.5 1182.8L1018.5 1180.9L1022.5 1179L1026.5 1177.1L1030.5 1175.2L1034.5 1173.3L1038.5 1171.3L1042.5 1169.4L1046.5 1167.4L1050.5 1165.4L1054.5 1163.4L1058.5 1161.4L1062.5 1159.4L1066.5 1157.3L1070.5 1155.3L1074.5 1153.2L1078.5 1151.1L1082.5 1149L1086.5 1146.9L1090.5 1144.8L1094.5 1142.6L1098.5 1140.5L1102.5 1138.3L1106.5 1136.1L1110.5 1133.9L1114.5 1131.7L1118.5 1129.4L1122.5 1127.1L1126.5 1124.9L1130.5 1122.6L1134.5 1120.3L1138.5 1118L1142.5 1115.6L1146.5 1113.3L1150.5 1110.9L1154.5 1108.5L1158.5 1106.1L1162.5 1103.7L1166.5 1101.3L1170.5 1098.9L1174.5 1096.5L1178.5 1094L1182.5 1091.6L1186.5 1089.1L1190.5 1086.6L1194.5 1084.1L1198.5 1081.7L1202.5 1079.1L1206.5 1076.6L1210.5 1074.1L1214.5 1071.6L1218.5 1069L1222.5 1066.5L1226.5 1063.9L1230.5 1061.3L1234.5 1058.7L1238.5 1056.1L1242.5 1053.5L1246.5 1050.9L1250.5 1048.2L1254.5 1045.5L1258.5 1042.9L1262.5 1040.2L1266.5 1037.4L1270.5 1034.7L1274.5 1032L1278.5 1029.2L1282.5 1026.4L1286.5 1023.6L1290.5 1020.8L1294.5 1017.9L1298.5 1015.1L1302.5 1012.2L1306.5 1009.3L1310.5 1006.4L1314.5 1003.5L1318.5 1000.5L1322.5 997.6L1326.5 994.6L1330.5 991.6L1334.5 988.6L1338.5 985.6L1342.5 982.5L1346.5 979.5L1350.5 976.4L1354.5 973.3L1358.5 970.3L1362.5 967.2L1366.5 964.1L1370.5 960.9L1374.5 957.8L1378.5 954.7L1382.5 951.5L1386.5 948.4L1390.5 945.2L1394.5 942L1398.5 938.8L1402.5 935.6L1406.5 932.4L1410.5 929.2L1414.5 925.9L1418.5 922.6L1422.5 919.4L1426.5 916L1430.5 912.7L1434.5 909.4L1438.5 906L1442.5 902.6L1446.5 899.2L1450.5 895.7L1454.5 892.2L1458.5 888.7L1462.5 885.2L1466.5 881.6L1470.5 878L1474.5 874.4L1478.5 870.7L1482.5 867L1486.5 863.3L1490.5 859.5L1494.5 855.8L1498.5 851.9L1502.5 848.1L1506.5 844.2L1510.5 840.3L1514.5 836.4L1518.5 832.4L1522.5 828.4L1526.5 824.4L1530.5 820.4L1534.5 816.4L1538.5 812.3L1542.5 808.2L1546.5 804.1L1550.5 799.9L1554.5 795.7L1558.5 791.6L1562.5 787.4L1566.5 783.1L1570.5 778.9L1574.5 774.6L1578.5 770.4L1582.5 766.1L1586.5 761.8L1590.5 757.4L1594.5 753L1598.5 748.7L1602.5 744.2L1606.5 739.8L1610.5 735.3L1614.5 730.9L1618.5 726.3L1622.5 721.8L1626.5 717.2L1630.5 712.6L1634.5 708L1638.5 703.3L1642.5 698.6L1646.5 693.9L1650.5 689.1L1654.5 684.3L1658.5 679.5L1662.5 674.6L1666.5 669.7L1670.5 664.8L1674.5 659.8L1678.5 654.7L1682.5 649.7L1686.5 644.6L1690.5 639.4L1694.5 634.2L1698.5 628.9L1702.5 623.6L1706.5 618.2L1710.5 612.8L1714.5 607.4L1718.5 601.8L1722.5 596.2L1726.5 590.6L1730.5 584.9L1734.5 579.1L1738.5 573.3L1742.5 567.4L1746.5 561.4L1750.5 555.4L1754.5 549.3L1758.5 543.1L1762.5 536.9L1766.5 530.6L1770.5 524.3L1774.5 517.9L1778.5 511.5L1782.5 505L1786.5 498.5L1790.5 492L1794.5 485.4L1798.5 478.9L1802.5 472.3L1806.5 465.7L1810.5 459L1814.5 452.4L1818.5 445.8L1822.5 439.2L1826.5 432.5L1830.5 425.9L1834.5 419.3L1838.5 412.8L1842.5 407.4L1843.2 407.4L1844.8 407.4L1844.8 410.4L1843.2 412.9L1842.5 414.1L1838.5 420.7L1834.5 427.3L1830.5 433.9L1826.5 440.5L1822.5 447.1L1818.5 453.8L1814.5 460.4L1810.5 467L1806.5 473.6L1802.5 480.2L1798.5 486.8L1794.5 493.4L1790.5 499.9L1786.5 506.4L1782.5 512.9L1778.5 519.3L1774.5 525.7L1770.5 532L1766.5 538.3L1762.5 544.6L1758.5 550.7L1754.5 556.9L1750.5 562.9L1746.5 568.9L1742.5 574.8L1738.5 580.7L1734.5 586.4L1730.5 592.2L1726.5 597.8L1722.5 603.4L1718.5 609L1714.5 614.5L1710.5 619.9L1706.5 625.3L1702.5 630.6L1698.5 635.9L1694.5 641.1L1690.5 646.3L1686.5 651.4L1682.5 656.5L1678.5 661.5L1674.5 666.5L1670.5 671.5L1666.5 676.4L1662.5 681.3L1658.5 686.1L1654.5 690.9L1650.5 695.7L1646.5 700.4L1642.5 705.1L1638.5 709.8L1634.5 714.5L1630.5 719.1L1626.5 723.7L1622.5 728.2L1618.5 732.7L1614.5 737.2L1610.5 741.7L1606.5 746.1L1602.5 750.6L1598.5 755L1594.5 759.3L1590.5 763.7L1586.5 768L1582.5 772.3L1578.5 776.6L1574.5 780.8L1570.5 785.1L1566.5 789.3L1562.5 793.5L1558.5 797.7L1554.5 801.9L1550.5 806L1546.5 810.1L1542.5 814.3L1538.5 818.3L1534.5 822.4L1530.5 826.4L1526.5 830.5L1522.5 834.4L1518.5 838.4L1514.5 842.3L1510.5 846.2L1506.5 850.1L1502.5 854L1498.5 857.8L1494.5 861.6L1490.5 865.4L1486.5 869.1L1482.5 872.8L1478.5 876.5L1474.5 880.1L1470.5 883.7L1466.5 887.3L1462.5 890.8L1458.5 894.4L1454.5 897.8L1450.5 901.3L1446.5 904.7L1442.5 908.1L1438.5 911.5L1434.5 914.9L1430.5 918.2L1426.5 921.5L1422.5 924.8L1418.5 928.1L1414.5 931.4L1410.5 934.6L1406.5 937.8L1402.5 941L1398.5 944.2L1394.5 947.4L1390.5 950.6L1386.5 953.7L1382.5 956.9L1378.5 960L1374.5 963.2L1370.5 966.3L1366.5 969.4L1362.5 972.5L1358.5 975.6L1354.5 978.7L1350.5 981.7L1346.5 984.8L1342.5 987.8L1338.5 990.8L1334.5 993.8L1330.5 996.8L1326.5 999.8L1322.5 1002.8L1318.5 1005.7L1314.5 1008.7L1310.5 1011.6L1306.5 1014.5L1302.5 1017.4L1298.5 1020.2L1294.5 1023.1L1290.5 1025.9L1286.5 1028.7L1282.5 1031.5L1278.5 1034.3L1274.5 1037L1270.5 1039.8L1266.5 1042.5L1262.5 1045.2L1258.5 1047.9L1254.5 1050.5L1250.5 1053.2L1246.5 1055.8L1242.5 1058.5L1238.5 1061.1L1234.5 1063.7L1230.5 1066.3L1226.5 1068.8L1222.5 1071.4L1218.5 1073.9L1214.5 1076.5L1210.5 1079L1206.5 1081.5L1202.5 1084L1198.5 1086.5L1194.5 1089L1190.5 1091.5L1186.5 1094L1182.5 1096.4L1178.5 1098.9L1174.5 1101.3L1170.5 1103.7L1166.5 1106.1L1162.5 1108.5L1158.5 1110.9L1154.5 1113.3L1150.5 1115.7L1146.5 1118L1142.5 1120.4L1138.5 1122.7L1134.5 1125L1130.5 1127.3L1126.5 1129.6L1122.5 1131.8L1118.5 1134.1L1114.5 1136.3L1110.5 1138.5L1106.5 1140.7L1102.5 1142.9L1098.5 1145.1L1094.5 1147.3L1090.5 1149.4L1086.5 1151.5L1082.5 1153.6L1078.5 1155.7L1074.5 1157.8L1070.5 1159.8L1066.5 1161.9L1062.5 1163.9L1058.5 1165.9L1054.5 1167.9L1050.5 1169.9L1046.5 1171.9L1042.5 1173.8L1038.5 1175.8L1034.5 1177.7L1030.5 1179.6L1026.5 1181.5L1022.5 1183.4L1018.5 1185.3L1014.5 1187.2L1010.5 1189L1006.5 1190.9L1002.5 1192.7L998.5 1194.5L994.5 1196.3L990.5 1198.1L986.5 1199.9L982.5 1201.7L978.5 1203.5L974.5 1205.2L970.5 1207L966.5 1208.7L962.5 1210.5L958.5 1212.2L954.5 1213.9L950.5 1215.6L946.5 1217.3L942.5 1219L938.5 1220.7L934.5 1222.4L930.5 1224.1L926.5 1225.7L922.5 1227.4L918.5 1229.1L914.5 1230.7L910.5 1232.3L906.5 1234L902.5 1235.6L898.5 1237.2L894.5 1238.8L890.5 1240.4L886.5 1242L882.5 1243.6L878.5 1245.1L874.5 1246.7L870.5 1248.2L866.5 1249.7L862.5 1251.2L858.5 1252.7L854.5 1254.2L850.5 1255.7L846.5 1257.1L842.5 1258.5L838.5 1259.9L834.5 1261.3L830.5 1262.7L826.5 1264.1L822.5 1265.4L818.5 1266.7L814.5 1268L810.5 1269.3L806.5 1270.5L802.5 1271.8L798.5 1273L794.5 1274.2L790.5 1275.4L786.5 1276.6L782.5 1277.7L778.5 1278.9L774.5 1280L770.5 1281.1L766.5 1282.3L762.5 1283.4L758.5 1284.4L754.5 1285.5L750.5 1286.6L746.5 1287.6L742.5 1288.7L738.5 1289.7L734.5 1290.7L730.5 1291.7L726.5 1292.7L722.5 1293.7L718.5 1294.7L714.5 1295.7L710.5 1296.6L706.5 1297.6L702.5 1298.5L698.5 1299.4L694.5 1300.4L690.5 1301.3L686.5 1302.1L682.5 1303L678.5 1303.9L674.5 1304.7L670.5 1305.5L666.5 1306.3L662.5 1307.1L658.5 1307.9L654.5 1308.6L650.5 1309.4L646.5 1310.1L642.5 1310.8L638.5 1311.5L634.5 1312.2L630.5 1312.8L626.5 1313.4L622.5 1314L618.5 1314.6L614.5 1315.2L610.5 1315.8L606.5 1316.3L602.5 1316.8L598.5 1317.3L594.5 1317.8L590.5 1318.3L586.5 1318.7L582.5 1319.1L578.5 1319.5L574.5 1319.9L570.5 1320.3L566.5 1320.6L562.5 1320.9L558.5 1321.2L554.5 1321.5L550.5 1321.8L546.5 1322L542.5 1322.2L538.5 1322.4L534.5 1322.6L530.5 1322.8L526.5 1322.9L522.5 1323.1L518.5 1323.2L514.5 1323.3L510.5 1323.4L506.5 1323.4L502.5 1323.5L498.5 1323.5L494.5 1323.6L490.5 1323.6L486.5 1323.6L482.5 1323.6L478.5 1323.6L474.5 1323.6L470.5 1323.6L466.5 1323.6L462.5 1323.5L458.5 1323.5L454.5 1323.5L450.5 1323.4L446.5 1323.3L442.5 1323.3L438.5 1323.2L434.5 1323.1L430.5 1323L426.5 1322.9L422.5 1322.8L418.5 1322.7L414.5 1322.6L410.5 1322.5L406.5 1322.3L402.5 1322.2L398.5 1322.1L394.5 1321.9L390.5 1321.7L386.5 1321.6L382.5 1321.4L378.5 1321.2L374.5 1321L370.5 1320.8L366.5 1320.6L362.5 1320.4L358.5 1320.2L354.5 1319.9L350.5 1319.7L346.5 1319.4L342.5 1319.2L338.5 1318.9L334.5 1318.6L330.5 1318.3L326.5 1318L322.5 1317.7L318.5 1317.4L314.5 1317.1L310.5 1316.7L306.5 1316.4L302.5 1316L298.5 1315.7L294.5 1315.3L290.5 1314.9L286.5 1314.5L282.5 1314.1L278.5 1313.7L276 1313.5L274.5 1313.3Z" fill="#808000"/>
</g>
<g clip-path="url(#cl)">
<line x1="644" y1="601.8" x2="644" y2="1389" stroke="#0000ff" stroke-width="4" stroke-dasharray="8.9 12.03" stroke-linecap="round" shape-rendering="geometricPrecision"/>
<line x1="1010" y1="602.7" x2="1010" y2="1389" stroke="#0000ff" stroke-width="4" stroke-dasharray="8.9 12.03" stroke-linecap="round" shape-rendering="geometricPrecision"/>
<line x1="1276" y1="594.7" x2="1276" y2="1380" stroke="#0000ff" stroke-width="4" stroke-dasharray="8.9 12.03" stroke-linecap="round" shape-rendering="geometricPrecision"/>
<line x1="1748" y1="111.8" x2="1748" y2="1389" stroke="#0000ff" stroke-width="4" stroke-dasharray="8.9 12.03" stroke-linecap="round" shape-rendering="geometricPrecision"/>
<line x1="280" y1="970" x2="1806" y2="970" stroke="#ff0000" stroke-width="4" stroke-dasharray="11 6.2 2 6.33" stroke-linecap="round" shape-rendering="geometricPrecision"/>
</g>
<g stroke="#000" stroke-width="6" fill="none" shape-rendering="crispEdges">
<line x1="276" y1="22" x2="276" y2="1389"/>
<line x1="276" y1="1389" x2="2123" y2="1389"/>
</g>
<g fill="#000">
<rect x="246" y="1386" width="30" height="6" rx="2"/>
<rect x="259" y="1282" width="17" height="6.8" rx="2"/>
<rect x="246" y="1176" width="30" height="6.8" rx="2"/>
<rect x="259" y="1072" width="17" height="6.8" rx="2"/>
<rect x="246" y="966" width="30" height="6.8" rx="2"/>
<rect x="259" y="862" width="17" height="6.8" rx="2"/>
<rect x="246" y="756" width="30" height="6.8" rx="2"/>
<rect x="259" y="652" width="17" height="6.8" rx="2"/>
<rect x="246" y="546" width="30" height="6.8" rx="2"/>
<rect x="259" y="442" width="17" height="6.8" rx="2"/>
<rect x="246" y="336" width="30" height="6.8" rx="2"/>
<rect x="259" y="232" width="17" height="6.8" rx="2"/>
<rect x="246" y="126" width="30" height="6.8" rx="2"/>
<rect x="259" y="22" width="17" height="6.8" rx="2"/>
<rect x="273" y="1389" width="6" height="31" rx="2"/>
<rect x="457" y="1389" width="6" height="16.5" rx="2"/>
<rect x="642" y="1389" width="6" height="31" rx="2"/>
<rect x="826" y="1389" width="6" height="16.5" rx="2"/>
<rect x="1011" y="1389" width="6" height="31" rx="2"/>
<rect x="1195" y="1389" width="6" height="16.5" rx="2"/>
<rect x="1379" y="1389" width="6" height="31" rx="2"/>
<rect x="1564" y="1389" width="6" height="16.5" rx="2"/>
<rect x="1748" y="1389" width="6" height="31" rx="2"/>
<rect x="1933" y="1389" width="6" height="16.5" rx="2"/>
<rect x="2117" y="1389" width="6" height="31" rx="2"/>
</g>
<g filter="url(#al)">
<text class="k" x="162.8" y="1404" textLength="67.94" lengthAdjust="spacingAndGlyphs">0.0</text>
<text class="k" x="162.8" y="1194" textLength="67.94" lengthAdjust="spacingAndGlyphs">0.1</text>
<text class="k" x="162.8" y="984" textLength="67.94" lengthAdjust="spacingAndGlyphs">0.2</text>
<text class="k" x="162.8" y="774" textLength="67.94" lengthAdjust="spacingAndGlyphs">0.3</text>
<text class="k" x="162.8" y="564" textLength="67.94" lengthAdjust="spacingAndGlyphs">0.4</text>
<text class="k" x="162.8" y="354" textLength="67.94" lengthAdjust="spacingAndGlyphs">0.5</text>
<text class="k" x="162.8" y="144" textLength="67.94" lengthAdjust="spacingAndGlyphs">0.6</text>
<text class="k" y="1477"><tspan x="262.15" textLength="28.76" lengthAdjust="spacingAndGlyphs">0</tspan></text>
<text class="k" y="1477"><tspan x="602.5" textLength="84.09" lengthAdjust="spacingAndGlyphs">200</tspan></text>
<text class="k" y="1477"><tspan x="972.6" textLength="81.85" lengthAdjust="spacingAndGlyphs">400</tspan></text>
<text class="k" y="1477"><tspan x="1340.6" textLength="84.08" lengthAdjust="spacingAndGlyphs">600</tspan></text>
<text class="k" y="1477"><tspan x="1711.8" textLength="80.91" lengthAdjust="spacingAndGlyphs">800</tspan></text>
<text class="k" y="1477"><tspan x="2068.35" textLength="106.24" lengthAdjust="spacingAndGlyphs">1000</tspan></text>
<g stroke-width="3" fill="none" shape-rendering="crispEdges">
<line x1="368" y1="61.5" x2="494" y2="61.5" stroke="#000000"/>
<line x1="368" y1="129.5" x2="494" y2="129.5" stroke="#ff0000"/>
<line x1="368" y1="198.5" x2="494" y2="198.5" stroke="#0000ff"/>
<line x1="368" y1="266.5" x2="494" y2="266.5" stroke="#008080"/>
<line x1="368" y1="334.5" x2="494" y2="334.5" stroke="#ff00ff"/>
<line x1="368" y1="403.5" x2="494" y2="403.5" stroke="#808000"/>
</g>
<text class="t" y="80"><tspan x="504.3" textLength="119.81" lengthAdjust="spacingAndGlyphs">Node</tspan> <tspan x="635.95" textLength="26.11" lengthAdjust="spacingAndGlyphs">8</tspan></text>
<text class="t" y="148"><tspan x="504.3" textLength="119.81" lengthAdjust="spacingAndGlyphs">Node</tspan> <tspan x="637.25" textLength="51.72" lengthAdjust="spacingAndGlyphs">13</tspan></text>
<text class="t" y="217"><tspan x="504.3" textLength="119.81" lengthAdjust="spacingAndGlyphs">Node</tspan> <tspan x="637.25" textLength="53.27" lengthAdjust="spacingAndGlyphs">17</tspan></text>
<text class="t" y="285"><tspan x="504.3" textLength="119.81" lengthAdjust="spacingAndGlyphs">Node</tspan> <tspan x="633.65" textLength="56.58" lengthAdjust="spacingAndGlyphs">20</tspan></text>
<text class="t" y="353"><tspan x="504.3" textLength="119.81" lengthAdjust="spacingAndGlyphs">Node</tspan> <tspan x="634.15" textLength="57.56" lengthAdjust="spacingAndGlyphs">69</tspan></text>
<text class="t" y="422"><tspan x="504.3" textLength="119.81" lengthAdjust="spacingAndGlyphs">Node</tspan> <tspan x="633.4" textLength="57.02" lengthAdjust="spacingAndGlyphs">70</tspan></text>
<text class="t" y="809"><tspan x="342.3" textLength="100.08" lengthAdjust="spacingAndGlyphs">First</tspan> <tspan x="455.7" textLength="110.45" lengthAdjust="spacingAndGlyphs">stage</tspan></text>
<text class="t" y="814"><tspan x="679.75" textLength="160.84" lengthAdjust="spacingAndGlyphs">Second</tspan> <tspan x="852.75" textLength="111.39" lengthAdjust="spacingAndGlyphs">stage</tspan></text>
<text class="t" y="814"><tspan x="1024.9" textLength="122.03" lengthAdjust="spacingAndGlyphs">Third</tspan> <tspan x="1158.5" textLength="111.95" lengthAdjust="spacingAndGlyphs">stage</tspan></text>
<text class="t" y="652"><tspan x="1294.5" textLength="146.04" lengthAdjust="spacingAndGlyphs">Fourth</tspan> <tspan x="1452.9" textLength="111.1" lengthAdjust="spacingAndGlyphs">stage</tspan></text>
<text class="t" y="233"><tspan x="1767.8" textLength="107.88" lengthAdjust="spacingAndGlyphs">Fifth</tspan> <tspan x="1888.7" textLength="110.09" lengthAdjust="spacingAndGlyphs">stage</tspan></text>
<text class="t" y="953"><tspan x="1816.5" textLength="199.69" lengthAdjust="spacingAndGlyphs">Reserved</tspan> <tspan x="2029.35" textLength="262.4" lengthAdjust="spacingAndGlyphs">deformation</tspan></text>
<text class="t" y="1021"><tspan x="1816.9" textLength="142.15" lengthAdjust="spacingAndGlyphs">design</tspan> <tspan x="1969.9" textLength="117.43" lengthAdjust="spacingAndGlyphs">value</tspan></text>
<text class="b" y="1586"><tspan x="1089.7" textLength="145.25" lengthAdjust="spacingAndGlyphs">Time</tspan> <tspan x="1251.6" textLength="54.63" lengthAdjust="spacingAndGlyphs">/h</tspan></text>
<text class="b" y="0" transform="translate(69 919.1) rotate(-90) scale(0.92 1)"><tspan x="-1.64" textLength="427.98" lengthAdjust="spacing">Displacement</tspan> <tspan x="445.19" textLength="77.65" lengthAdjust="spacing">/m</tspan></text>
</g>
</svg></body></html>
